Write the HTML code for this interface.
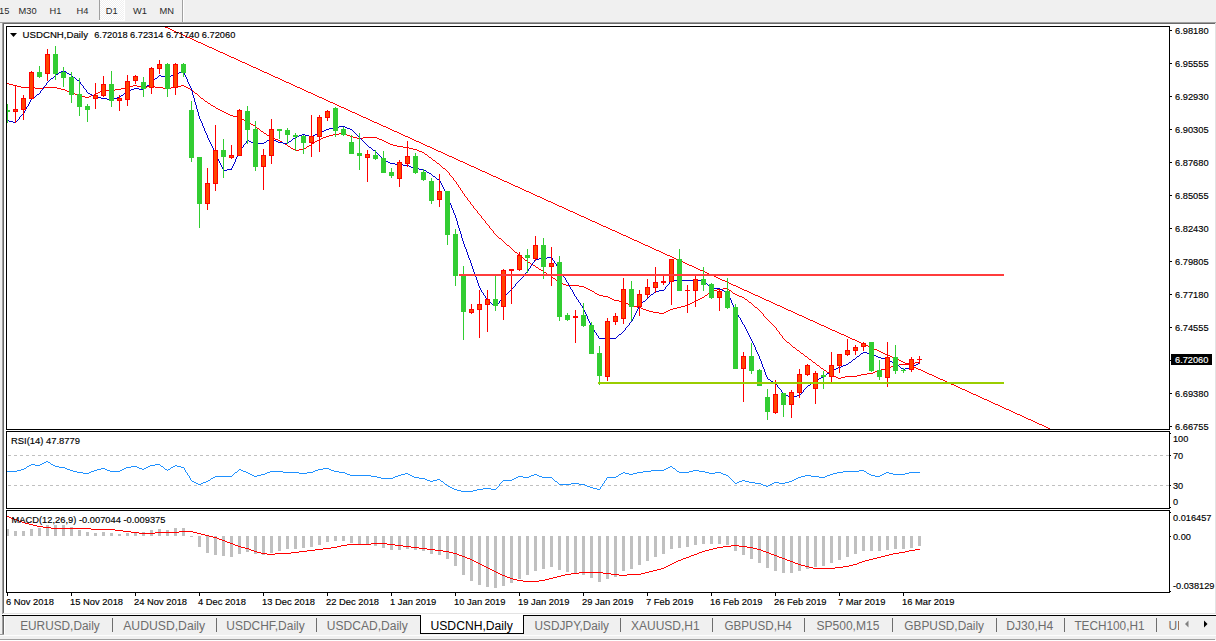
<!DOCTYPE html>
<html><head><meta charset="utf-8"><title>USDCNH,Daily</title>
<style>html,body{margin:0;padding:0;background:#f0f0f0;width:1216px;height:641px;overflow:hidden;font-family:"Liberation Sans",sans-serif}</style>
</head><body>
<svg width="1216" height="641" viewBox="0 0 1216 641" shape-rendering="crispEdges" style="display:block">
<defs><pattern id="chk" width="2" height="2" patternUnits="userSpaceOnUse"><rect width="2" height="2" fill="#f0f0f0"/><rect width="1" height="1" fill="#fff"/><rect x="1" y="1" width="1" height="1" fill="#fff"/></pattern>
<clipPath id="cm"><rect x="7" y="27" width="1162" height="402"/></clipPath>
<clipPath id="cr"><rect x="7" y="432" width="1162" height="76"/></clipPath>
<clipPath id="cd"><rect x="7" y="511" width="1162" height="81"/></clipPath>
</defs>
<rect width="1216" height="641" fill="#f0f0f0"/>
<rect x="99" y="0" width="1" height="20" fill="#a0a0a0"/>
<rect x="100" y="0" width="24" height="20" fill="url(#chk)"/>
<rect x="124" y="0" width="1" height="21" fill="#fff"/><rect x="99" y="20" width="26" height="1" fill="#fff"/>
<rect x="182" y="0" width="1" height="22" fill="#a0a0a0"/><rect x="183" y="0" width="1" height="22" fill="#fff"/>
<text x="-1" y="14" font-family="Liberation Sans, sans-serif" font-size="9.6" fill="#2a2a2a" textLength="10.36" lengthAdjust="spacingAndGlyphs">15</text>
<text x="18.5" y="14" font-family="Liberation Sans, sans-serif" font-size="9.6" fill="#2a2a2a" textLength="18.11" lengthAdjust="spacingAndGlyphs">M30</text>
<text x="49.5" y="14" font-family="Liberation Sans, sans-serif" font-size="9.6" fill="#2a2a2a" textLength="11.9" lengthAdjust="spacingAndGlyphs">H1</text>
<text x="76.5" y="14" font-family="Liberation Sans, sans-serif" font-size="9.6" fill="#2a2a2a" textLength="11.9" lengthAdjust="spacingAndGlyphs">H4</text>
<text x="105.8" y="14" font-family="Liberation Sans, sans-serif" font-size="9.6" fill="#2a2a2a" textLength="11.9" lengthAdjust="spacingAndGlyphs">D1</text>
<text x="133" y="14" font-family="Liberation Sans, sans-serif" font-size="9.6" fill="#2a2a2a" textLength="13.97" lengthAdjust="spacingAndGlyphs">W1</text>
<text x="159.5" y="14" font-family="Liberation Sans, sans-serif" font-size="9.6" fill="#2a2a2a" textLength="14.48" lengthAdjust="spacingAndGlyphs">MN</text>
<rect x="0" y="22" width="1216" height="1" fill="#a0a0a0"/>
<rect x="3" y="23" width="1212" height="1" fill="#696969"/>
<rect x="2" y="22" width="1" height="592" fill="#a0a0a0"/>
<rect x="3" y="23" width="1" height="590" fill="#696969"/>
<rect x="4" y="24" width="1211" height="589" fill="#fff"/>
<rect x="1215" y="23" width="1" height="591" fill="#e3e3e3"/>
<rect x="3" y="613" width="1213" height="1" fill="#e3e3e3"/>
<rect x="2" y="614" width="1214" height="1" fill="#fff"/>
<rect x="2" y="616" width="1" height="18" fill="#a0a0a0"/>
<rect x="3" y="616" width="1" height="18" fill="#696969"/>
<rect x="4" y="616" width="1" height="18" fill="#fff"/>
<rect x="6" y="26" width="1164" height="1" fill="#000"/>
<rect x="6" y="429" width="1164" height="1" fill="#000"/>
<rect x="6" y="26" width="1" height="404" fill="#000"/>
<rect x="1169" y="26" width="1" height="404" fill="#000"/>
<rect x="6" y="431" width="1164" height="1" fill="#000"/>
<rect x="6" y="508" width="1164" height="1" fill="#000"/>
<rect x="6" y="431" width="1" height="78" fill="#000"/>
<rect x="1169" y="431" width="1" height="78" fill="#000"/>
<rect x="6" y="510" width="1164" height="1" fill="#000"/>
<rect x="6" y="592" width="1164" height="1" fill="#000"/>
<rect x="6" y="510" width="1" height="83" fill="#000"/>
<rect x="1169" y="510" width="1" height="83" fill="#000"/>
<g clip-path="url(#cm)">
<path d="M165 27h3v1h-3zM168 28h2v1h-2zM170 29h2v1h-2zM172 30h2v1h-2zM174 31h2v1h-2zM176 32h3v1h-3zM179 33h2v1h-2zM181 34h2v1h-2zM183 35h2v1h-2zM185 36h2v1h-2zM187 37h3v1h-3zM190 38h2v1h-2zM192 39h2v1h-2zM194 40h2v1h-2zM196 41h2v1h-2zM198 42h3v1h-3zM201 43h2v1h-2zM203 44h2v1h-2zM205 45h2v1h-2zM207 46h2v1h-2zM209 47h3v1h-3zM212 48h2v1h-2zM214 49h2v1h-2zM216 50h2v1h-2zM218 51h2v1h-2zM220 52h3v1h-3zM223 53h2v1h-2zM225 54h2v1h-2zM227 55h2v1h-2zM229 56h2v1h-2zM231 57h3v1h-3zM234 58h2v1h-2zM236 59h2v1h-2zM238 60h2v1h-2zM240 61h2v1h-2zM242 62h3v1h-3zM245 63h2v1h-2zM247 64h2v1h-2zM249 65h2v1h-2zM251 66h2v1h-2zM253 67h3v1h-3zM256 68h2v1h-2zM258 69h2v1h-2zM260 70h2v1h-2zM262 71h2v1h-2zM264 72h3v1h-3zM267 73h2v1h-2zM269 74h2v1h-2zM271 75h2v1h-2zM273 76h2v1h-2zM275 77h3v1h-3zM278 78h2v1h-2zM280 79h2v1h-2zM282 80h2v1h-2zM284 81h2v1h-2zM286 82h3v1h-3zM289 83h2v1h-2zM291 84h2v1h-2zM293 85h2v1h-2zM295 86h2v1h-2zM297 87h3v1h-3zM300 88h2v1h-2zM302 89h2v1h-2zM304 90h2v1h-2zM306 91h2v1h-2zM308 92h3v1h-3zM311 93h2v1h-2zM313 94h2v1h-2zM315 95h2v1h-2zM317 96h2v1h-2zM319 97h3v1h-3zM322 98h2v1h-2zM324 99h2v1h-2zM326 100h2v1h-2zM328 101h2v1h-2zM330 102h3v1h-3zM333 103h2v1h-2zM335 104h2v1h-2zM337 105h2v1h-2zM339 106h2v1h-2zM341 107h3v1h-3zM344 108h2v1h-2zM346 109h2v1h-2zM348 110h2v1h-2zM350 111h2v1h-2zM352 112h3v1h-3zM355 113h2v1h-2zM357 114h2v1h-2zM359 115h2v1h-2zM361 116h2v1h-2zM363 117h3v1h-3zM366 118h2v1h-2zM368 119h2v1h-2zM370 120h2v1h-2zM372 121h2v1h-2zM374 122h3v1h-3zM377 123h2v1h-2zM379 124h2v1h-2zM381 125h2v1h-2zM383 126h3v1h-3zM386 127h2v1h-2zM388 128h2v1h-2zM390 129h2v1h-2zM392 130h2v1h-2zM394 131h3v1h-3zM397 132h2v1h-2zM399 133h2v1h-2zM401 134h2v1h-2zM403 135h2v1h-2zM405 136h3v1h-3zM408 137h2v1h-2zM410 138h2v1h-2zM412 139h2v1h-2zM414 140h2v1h-2zM416 141h3v1h-3zM419 142h2v1h-2zM421 143h2v1h-2zM423 144h2v1h-2zM425 145h2v1h-2zM427 146h3v1h-3zM430 147h2v1h-2zM432 148h2v1h-2zM434 149h2v1h-2zM436 150h2v1h-2zM438 151h3v1h-3zM441 152h2v1h-2zM443 153h2v1h-2zM445 154h2v1h-2zM447 155h2v1h-2zM449 156h3v1h-3zM452 157h2v1h-2zM454 158h2v1h-2zM456 159h2v1h-2zM458 160h2v1h-2zM460 161h3v1h-3zM463 162h2v1h-2zM465 163h2v1h-2zM467 164h2v1h-2zM469 165h2v1h-2zM471 166h3v1h-3zM474 167h2v1h-2zM476 168h2v1h-2zM478 169h2v1h-2zM480 170h2v1h-2zM482 171h3v1h-3zM485 172h2v1h-2zM487 173h2v1h-2zM489 174h2v1h-2zM491 175h2v1h-2zM493 176h3v1h-3zM496 177h2v1h-2zM498 178h2v1h-2zM500 179h2v1h-2zM502 180h2v1h-2zM504 181h3v1h-3zM507 182h2v1h-2zM509 183h2v1h-2zM511 184h2v1h-2zM513 185h2v1h-2zM515 186h3v1h-3zM518 187h2v1h-2zM520 188h2v1h-2zM522 189h2v1h-2zM524 190h2v1h-2zM526 191h3v1h-3zM529 192h2v1h-2zM531 193h2v1h-2zM533 194h2v1h-2zM535 195h2v1h-2zM537 196h3v1h-3zM540 197h2v1h-2zM542 198h2v1h-2zM544 199h2v1h-2zM546 200h2v1h-2zM548 201h3v1h-3zM551 202h2v1h-2zM553 203h2v1h-2zM555 204h2v1h-2zM557 205h2v1h-2zM559 206h3v1h-3zM562 207h2v1h-2zM564 208h2v1h-2zM566 209h2v1h-2zM568 210h2v1h-2zM570 211h3v1h-3zM573 212h2v1h-2zM575 213h2v1h-2zM577 214h2v1h-2zM579 215h2v1h-2zM581 216h3v1h-3zM584 217h2v1h-2zM586 218h2v1h-2zM588 219h2v1h-2zM590 220h2v1h-2zM592 221h3v1h-3zM595 222h2v1h-2zM597 223h2v1h-2zM599 224h2v1h-2zM601 225h2v1h-2zM603 226h3v1h-3zM606 227h2v1h-2zM608 228h2v1h-2zM610 229h2v1h-2zM612 230h3v1h-3zM615 231h2v1h-2zM617 232h2v1h-2zM619 233h2v1h-2zM621 234h2v1h-2zM623 235h3v1h-3zM626 236h2v1h-2zM628 237h2v1h-2zM630 238h2v1h-2zM632 239h2v1h-2zM634 240h3v1h-3zM637 241h2v1h-2zM639 242h2v1h-2zM641 243h2v1h-2zM643 244h2v1h-2zM645 245h3v1h-3zM648 246h2v1h-2zM650 247h2v1h-2zM652 248h2v1h-2zM654 249h2v1h-2zM656 250h3v1h-3zM659 251h2v1h-2zM661 252h2v1h-2zM663 253h2v1h-2zM665 254h2v1h-2zM667 255h3v1h-3zM670 256h2v1h-2zM672 257h2v1h-2zM674 258h2v1h-2zM676 259h2v1h-2zM678 260h3v1h-3zM681 261h2v1h-2zM683 262h2v1h-2zM685 263h2v1h-2zM687 264h2v1h-2zM689 265h3v1h-3zM692 266h2v1h-2zM694 267h2v1h-2zM696 268h2v1h-2zM698 269h2v1h-2zM700 270h3v1h-3zM703 271h2v1h-2zM705 272h2v1h-2zM707 273h2v1h-2zM709 274h2v1h-2zM711 275h3v1h-3zM714 276h2v1h-2zM716 277h2v1h-2zM718 278h2v1h-2zM720 279h2v1h-2zM722 280h3v1h-3zM725 281h2v1h-2zM727 282h2v1h-2zM729 283h2v1h-2zM731 284h2v1h-2zM733 285h3v1h-3zM736 286h2v1h-2zM738 287h2v1h-2zM740 288h2v1h-2zM742 289h2v1h-2zM744 290h3v1h-3zM747 291h2v1h-2zM749 292h2v1h-2zM751 293h2v1h-2zM753 294h2v1h-2zM755 295h3v1h-3zM758 296h2v1h-2zM760 297h2v1h-2zM762 298h2v1h-2zM764 299h2v1h-2zM766 300h3v1h-3zM769 301h2v1h-2zM771 302h2v1h-2zM773 303h2v1h-2zM775 304h2v1h-2zM777 305h3v1h-3zM780 306h2v1h-2zM782 307h2v1h-2zM784 308h2v1h-2zM786 309h2v1h-2zM788 310h3v1h-3zM791 311h2v1h-2zM793 312h2v1h-2zM795 313h2v1h-2zM797 314h2v1h-2zM799 315h3v1h-3zM802 316h2v1h-2zM804 317h2v1h-2zM806 318h2v1h-2zM808 319h2v1h-2zM810 320h3v1h-3zM813 321h2v1h-2zM815 322h2v1h-2zM817 323h2v1h-2zM819 324h2v1h-2zM821 325h3v1h-3zM824 326h2v1h-2zM826 327h2v1h-2zM828 328h2v1h-2zM830 329h2v1h-2zM832 330h3v1h-3zM835 331h2v1h-2zM837 332h2v1h-2zM839 333h2v1h-2zM841 334h3v1h-3zM844 335h2v1h-2zM846 336h2v1h-2zM848 337h2v1h-2zM850 338h2v1h-2zM852 339h3v1h-3zM855 340h2v1h-2zM857 341h2v1h-2zM859 342h2v1h-2zM861 343h2v1h-2zM863 344h3v1h-3zM866 345h2v1h-2zM868 346h2v1h-2zM870 347h2v1h-2zM872 348h2v1h-2zM874 349h3v1h-3zM877 350h2v1h-2zM879 351h2v1h-2zM881 352h2v1h-2zM883 353h2v1h-2zM885 354h3v1h-3zM888 355h2v1h-2zM890 356h2v1h-2zM892 357h2v1h-2zM894 358h2v1h-2zM896 359h3v1h-3zM899 360h2v1h-2zM901 361h2v1h-2zM903 362h2v1h-2zM905 363h2v1h-2zM907 364h3v1h-3zM910 365h2v1h-2zM912 366h2v1h-2zM914 367h2v1h-2zM916 368h2v1h-2zM918 369h3v1h-3zM921 370h2v1h-2zM923 371h2v1h-2zM925 372h2v1h-2zM927 373h2v1h-2zM929 374h3v1h-3zM932 375h2v1h-2zM934 376h2v1h-2zM936 377h2v1h-2zM938 378h2v1h-2zM940 379h3v1h-3zM943 380h2v1h-2zM945 381h2v1h-2zM947 382h2v1h-2zM949 383h2v1h-2zM951 384h3v1h-3zM954 385h2v1h-2zM956 386h2v1h-2zM958 387h2v1h-2zM960 388h2v1h-2zM962 389h3v1h-3zM965 390h2v1h-2zM967 391h2v1h-2zM969 392h2v1h-2zM971 393h2v1h-2zM973 394h3v1h-3zM976 395h2v1h-2zM978 396h2v1h-2zM980 397h2v1h-2zM982 398h2v1h-2zM984 399h3v1h-3zM987 400h2v1h-2zM989 401h2v1h-2zM991 402h2v1h-2zM993 403h2v1h-2zM995 404h3v1h-3zM998 405h2v1h-2zM1000 406h2v1h-2zM1002 407h2v1h-2zM1004 408h2v1h-2zM1006 409h3v1h-3zM1009 410h2v1h-2zM1011 411h2v1h-2zM1013 412h2v1h-2zM1015 413h2v1h-2zM1017 414h3v1h-3zM1020 415h2v1h-2zM1022 416h2v1h-2zM1024 417h2v1h-2zM1026 418h2v1h-2zM1028 419h3v1h-3zM1031 420h2v1h-2zM1033 421h2v1h-2zM1035 422h2v1h-2zM1037 423h2v1h-2zM1039 424h3v1h-3zM1042 425h2v1h-2zM1044 426h2v1h-2zM1046 427h2v1h-2zM1048 428h2v1h-2z" fill="#ff0000"/>
<path d="M6 83h3v1h-3zM9 84h4v1h-4zM13 85h4v1h-4zM133 85h4v1h-4zM181 85h3v1h-3zM17 86h4v1h-4zM129 86h4v1h-4zM137 86h4v1h-4zM147 86h8v1h-8zM177 86h4v1h-4zM184 86h2v1h-2zM21 87h14v1h-14zM43 87h14v1h-14zM125 87h4v1h-4zM141 87h6v1h-6zM155 87h8v1h-8zM171 87h6v1h-6zM186 87h2v1h-2zM35 88h8v1h-8zM57 88h4v1h-4zM121 88h4v1h-4zM163 88h8v1h-8zM188 88h2v1h-2zM61 89h4v1h-4zM115 89h6v1h-6zM190 89h2v1h-2zM65 90h2v1h-2zM102 90h13v1h-13zM192 90h1v1h-1zM67 91h3v1h-3zM100 91h2v1h-2zM193 91h1v1h-1zM70 92h3v1h-3zM98 92h2v1h-2zM194 92h1v1h-1zM73 93h2v1h-2zM96 93h2v1h-2zM195 93h2v1h-2zM75 94h3v1h-3zM94 94h2v1h-2zM197 94h1v1h-1zM78 95h3v1h-3zM91 95h3v1h-3zM198 95h1v1h-1zM81 96h4v1h-4zM89 96h2v1h-2zM199 96h1v1h-1zM85 97h4v1h-4zM200 97h1v1h-1zM201 98h2v1h-2zM203 99h1v1h-1zM204 100h1v1h-1zM205 101h2v1h-2zM207 102h1v1h-1zM208 103h2v1h-2zM210 104h1v1h-1zM211 105h2v1h-2zM213 106h2v1h-2zM215 107h1v1h-1zM216 108h2v1h-2zM218 109h2v1h-2zM220 110h2v1h-2zM222 111h2v1h-2zM224 112h2v1h-2zM226 113h2v1h-2zM228 114h2v1h-2zM230 115h3v1h-3zM233 116h4v1h-4zM237 117h3v1h-3zM240 118h2v1h-2zM242 119h2v1h-2zM244 120h2v1h-2zM246 121h2v1h-2zM248 122h2v1h-2zM250 123h1v1h-1zM251 124h2v1h-2zM253 125h2v1h-2zM255 126h1v1h-1zM256 127h1v1h-1zM257 128h2v1h-2zM259 129h1v1h-1zM260 130h1v1h-1zM261 131h2v1h-2zM263 132h1v1h-1zM264 133h2v1h-2zM339 133h6v1h-6zM266 134h1v1h-1zM333 134h6v1h-6zM345 134h2v1h-2zM267 135h2v1h-2zM329 135h4v1h-4zM347 135h3v1h-3zM269 136h2v1h-2zM326 136h3v1h-3zM350 136h3v1h-3zM271 137h2v1h-2zM323 137h3v1h-3zM353 137h4v1h-4zM363 137h14v1h-14zM273 138h2v1h-2zM321 138h2v1h-2zM357 138h6v1h-6zM377 138h2v1h-2zM275 139h3v1h-3zM319 139h2v1h-2zM379 139h3v1h-3zM278 140h2v1h-2zM317 140h2v1h-2zM382 140h2v1h-2zM280 141h2v1h-2zM315 141h2v1h-2zM384 141h2v1h-2zM282 142h1v1h-1zM314 142h1v1h-1zM386 142h2v1h-2zM283 143h2v1h-2zM312 143h2v1h-2zM388 143h2v1h-2zM285 144h2v1h-2zM311 144h1v1h-1zM390 144h3v1h-3zM287 145h1v1h-1zM309 145h2v1h-2zM393 145h4v1h-4zM288 146h2v1h-2zM307 146h2v1h-2zM397 146h6v1h-6zM290 147h1v1h-1zM306 147h1v1h-1zM403 147h6v1h-6zM291 148h2v1h-2zM304 148h2v1h-2zM409 148h4v1h-4zM293 149h2v1h-2zM299 149h5v1h-5zM413 149h4v1h-4zM295 150h4v1h-4zM417 150h2v1h-2zM419 151h3v1h-3zM422 152h2v1h-2zM424 153h1v1h-1zM425 154h2v1h-2zM427 155h1v1h-1zM428 156h1v1h-1zM429 157h2v1h-2zM431 158h1v1h-1zM432 159h1v1h-1zM433 160h2v1h-2zM435 161h1v1h-1zM436 162h1v1h-1zM437 163h2v1h-2zM439 164h1v1h-1zM440 165h1v1h-1zM441 166h1v1h-1zM442 167h1v1h-1zM443 168h2v1h-2zM445 169h1v1h-1zM446 170h1v1h-1zM447 171h1v1h-1zM448 172h1v1h-1zM449 173h1v1h-1zM449 174h1v1h-1zM450 175h1v1h-1zM451 176h1v1h-1zM452 177h1v1h-1zM453 178h1v1h-1zM453 179h1v1h-1zM454 180h1v1h-1zM455 181h1v1h-1zM456 182h1v1h-1zM456 183h1v1h-1zM457 184h1v1h-1zM458 185h1v1h-1zM458 186h1v1h-1zM459 187h1v1h-1zM460 188h1v1h-1zM460 189h1v1h-1zM461 190h1v1h-1zM462 191h1v1h-1zM462 192h1v1h-1zM463 193h1v1h-1zM464 194h1v1h-1zM464 195h1v1h-1zM465 196h1v1h-1zM466 197h1v1h-1zM467 198h1v1h-1zM467 199h1v1h-1zM468 200h1v1h-1zM469 201h1v1h-1zM470 202h1v1h-1zM470 203h1v1h-1zM471 204h1v1h-1zM472 205h1v1h-1zM473 206h1v1h-1zM473 207h1v1h-1zM474 208h1v1h-1zM475 209h1v1h-1zM476 210h1v1h-1zM477 211h1v1h-1zM477 212h1v1h-1zM478 213h1v1h-1zM479 214h1v1h-1zM480 215h1v1h-1zM481 216h1v1h-1zM481 217h1v1h-1zM482 218h1v1h-1zM483 219h1v1h-1zM484 220h1v1h-1zM485 221h1v1h-1zM485 222h1v1h-1zM486 223h1v1h-1zM487 224h1v1h-1zM488 225h1v1h-1zM489 226h1v1h-1zM489 227h1v1h-1zM490 228h1v1h-1zM491 229h1v1h-1zM492 230h1v1h-1zM493 231h1v1h-1zM493 232h1v1h-1zM494 233h1v1h-1zM495 234h1v1h-1zM496 235h1v1h-1zM497 236h1v1h-1zM498 237h1v1h-1zM499 238h2v1h-2zM501 239h1v1h-1zM502 240h1v1h-1zM503 241h1v1h-1zM504 242h1v1h-1zM505 243h1v1h-1zM506 244h1v1h-1zM507 245h2v1h-2zM509 246h1v1h-1zM510 247h1v1h-1zM511 248h1v1h-1zM512 249h1v1h-1zM513 250h1v1h-1zM514 251h1v1h-1zM515 252h2v1h-2zM517 253h1v1h-1zM518 254h1v1h-1zM519 255h1v1h-1zM520 256h1v1h-1zM521 257h2v1h-2zM523 258h1v1h-1zM524 259h1v1h-1zM525 260h2v1h-2zM527 261h1v1h-1zM528 262h2v1h-2zM530 263h1v1h-1zM531 264h2v1h-2zM533 265h2v1h-2zM535 266h1v1h-1zM536 267h2v1h-2zM538 268h1v1h-1zM539 269h2v1h-2zM541 270h2v1h-2zM543 271h1v1h-1zM544 272h2v1h-2zM546 273h1v1h-1zM547 274h2v1h-2zM549 275h2v1h-2zM551 276h1v1h-1zM552 277h1v1h-1zM553 278h2v1h-2zM555 279h1v1h-1zM556 280h1v1h-1zM557 281h2v1h-2zM559 282h2v1h-2zM561 283h2v1h-2zM563 284h3v1h-3zM566 285h13v1h-13zM579 286h5v1h-5zM584 287h2v1h-2zM586 288h2v1h-2zM723 288h5v1h-5zM588 289h2v1h-2zM717 289h6v1h-6zM728 289h1v1h-1zM590 290h2v1h-2zM713 290h4v1h-4zM729 290h2v1h-2zM592 291h2v1h-2zM711 291h2v1h-2zM731 291h1v1h-1zM594 292h1v1h-1zM709 292h2v1h-2zM732 292h1v1h-1zM595 293h2v1h-2zM708 293h1v1h-1zM733 293h2v1h-2zM597 294h2v1h-2zM707 294h1v1h-1zM735 294h2v1h-2zM599 295h4v1h-4zM705 295h2v1h-2zM737 295h2v1h-2zM603 296h5v1h-5zM704 296h1v1h-1zM739 296h3v1h-3zM608 297h2v1h-2zM702 297h2v1h-2zM742 297h2v1h-2zM610 298h2v1h-2zM700 298h2v1h-2zM744 298h1v1h-1zM612 299h2v1h-2zM698 299h2v1h-2zM745 299h2v1h-2zM614 300h5v1h-5zM696 300h2v1h-2zM747 300h1v1h-1zM619 301h5v1h-5zM694 301h2v1h-2zM748 301h1v1h-1zM624 302h2v1h-2zM692 302h2v1h-2zM749 302h2v1h-2zM626 303h2v1h-2zM690 303h2v1h-2zM751 303h1v1h-1zM628 304h2v1h-2zM688 304h2v1h-2zM752 304h1v1h-1zM630 305h3v1h-3zM685 305h3v1h-3zM753 305h1v1h-1zM633 306h4v1h-4zM681 306h4v1h-4zM754 306h1v1h-1zM637 307h4v1h-4zM677 307h4v1h-4zM755 307h2v1h-2zM641 308h2v1h-2zM673 308h4v1h-4zM757 308h1v1h-1zM643 309h3v1h-3zM670 309h3v1h-3zM758 309h1v1h-1zM646 310h3v1h-3zM668 310h2v1h-2zM759 310h1v1h-1zM649 311h4v1h-4zM666 311h2v1h-2zM760 311h1v1h-1zM653 312h6v1h-6zM664 312h2v1h-2zM761 312h1v1h-1zM659 313h5v1h-5zM762 313h1v1h-1zM763 314h1v1h-1zM763 315h1v1h-1zM764 316h1v1h-1zM765 317h1v1h-1zM766 318h1v1h-1zM767 319h1v1h-1zM768 320h1v1h-1zM769 321h1v1h-1zM770 322h1v1h-1zM771 323h1v1h-1zM772 324h1v1h-1zM773 325h1v1h-1zM774 326h1v1h-1zM775 327h1v1h-1zM776 328h1v1h-1zM776 329h1v1h-1zM777 330h1v1h-1zM778 331h1v1h-1zM779 332h1v1h-1zM779 333h1v1h-1zM780 334h1v1h-1zM781 335h1v1h-1zM782 336h1v1h-1zM782 337h1v1h-1zM783 338h1v1h-1zM784 339h1v1h-1zM785 340h1v1h-1zM786 341h1v1h-1zM787 342h2v1h-2zM789 343h1v1h-1zM790 344h1v1h-1zM791 345h1v1h-1zM792 346h1v1h-1zM793 347h2v1h-2zM795 348h1v1h-1zM796 349h1v1h-1zM797 350h2v1h-2zM799 351h1v1h-1zM800 352h1v1h-1zM801 353h2v1h-2zM803 354h1v1h-1zM804 355h1v1h-1zM805 356h2v1h-2zM807 357h1v1h-1zM808 358h1v1h-1zM809 359h2v1h-2zM811 360h1v1h-1zM812 361h1v1h-1zM813 362h2v1h-2zM915 362h5v1h-5zM815 363h1v1h-1zM907 363h8v1h-8zM816 364h1v1h-1zM899 364h8v1h-8zM817 365h2v1h-2zM894 365h5v1h-5zM819 366h1v1h-1zM891 366h3v1h-3zM820 367h1v1h-1zM889 367h2v1h-2zM821 368h2v1h-2zM885 368h4v1h-4zM823 369h1v1h-1zM881 369h4v1h-4zM824 370h2v1h-2zM878 370h3v1h-3zM826 371h1v1h-1zM875 371h3v1h-3zM827 372h2v1h-2zM873 372h2v1h-2zM829 373h2v1h-2zM867 373h6v1h-6zM831 374h1v1h-1zM861 374h6v1h-6zM832 375h2v1h-2zM857 375h4v1h-4zM834 376h2v1h-2zM845 376h12v1h-12zM836 377h2v1h-2zM841 377h4v1h-4zM838 378h3v1h-3z" fill="#ff0000" />
<path d="M63 70h1v1h-1zM61 71h2v1h-2zM64 71h2v1h-2zM182 71h2v1h-2zM59 72h2v1h-2zM66 72h1v1h-1zM179 72h3v1h-3zM183 72h1v1h-1zM58 73h1v1h-1zM67 73h2v1h-2zM177 73h2v1h-2zM184 73h1v1h-1zM56 74h2v1h-2zM69 74h2v1h-2zM174 74h3v1h-3zM184 74h1v1h-1zM55 75h1v1h-1zM71 75h1v1h-1zM159 75h2v1h-2zM171 75h3v1h-3zM185 75h1v1h-1zM54 76h1v1h-1zM72 76h1v1h-1zM158 76h1v1h-1zM161 76h4v1h-4zM169 76h2v1h-2zM185 76h1v1h-1zM53 77h1v1h-1zM73 77h2v1h-2zM157 77h1v1h-1zM165 77h4v1h-4zM186 77h1v1h-1zM51 78h2v1h-2zM75 78h1v1h-1zM155 78h2v1h-2zM186 78h1v1h-1zM50 79h1v1h-1zM76 79h1v1h-1zM154 79h1v1h-1zM187 79h1v1h-1zM49 80h1v1h-1zM77 80h2v1h-2zM153 80h1v1h-1zM187 80h1v1h-1zM48 81h1v1h-1zM79 81h1v1h-1zM152 81h1v1h-1zM187 81h1v1h-1zM47 82h1v1h-1zM80 82h1v1h-1zM151 82h1v1h-1zM188 82h1v1h-1zM46 83h1v1h-1zM80 83h1v1h-1zM150 83h1v1h-1zM188 83h1v1h-1zM46 84h1v1h-1zM81 84h1v1h-1zM149 84h1v1h-1zM189 84h1v1h-1zM45 85h1v1h-1zM82 85h1v1h-1zM147 85h2v1h-2zM189 85h1v1h-1zM44 86h1v1h-1zM83 86h1v1h-1zM146 86h1v1h-1zM190 86h1v1h-1zM43 87h1v1h-1zM83 87h1v1h-1zM145 87h1v1h-1zM190 87h1v1h-1zM43 88h1v1h-1zM84 88h1v1h-1zM134 88h5v1h-5zM144 88h1v1h-1zM191 88h1v1h-1zM42 89h1v1h-1zM85 89h1v1h-1zM131 89h3v1h-3zM139 89h5v1h-5zM191 89h1v1h-1zM41 90h1v1h-1zM86 90h1v1h-1zM129 90h2v1h-2zM191 90h1v1h-1zM40 91h1v1h-1zM86 91h1v1h-1zM127 91h2v1h-2zM192 91h1v1h-1zM40 92h1v1h-1zM87 92h1v1h-1zM125 92h2v1h-2zM192 92h1v1h-1zM39 93h1v1h-1zM88 93h2v1h-2zM124 93h1v1h-1zM192 93h1v1h-1zM37 94h2v1h-2zM90 94h2v1h-2zM123 94h1v1h-1zM192 94h1v1h-1zM36 95h1v1h-1zM92 95h2v1h-2zM121 95h2v1h-2zM193 95h1v1h-1zM35 96h1v1h-1zM94 96h3v1h-3zM120 96h1v1h-1zM193 96h1v1h-1zM33 97h2v1h-2zM97 97h4v1h-4zM117 97h3v1h-3zM193 97h1v1h-1zM32 98h1v1h-1zM101 98h6v1h-6zM113 98h4v1h-4zM194 98h1v1h-1zM31 99h1v1h-1zM107 99h6v1h-6zM194 99h1v1h-1zM30 100h1v1h-1zM194 100h1v1h-1zM30 101h1v1h-1zM194 101h1v1h-1zM29 102h1v1h-1zM195 102h1v1h-1zM29 103h1v1h-1zM195 103h1v1h-1zM28 104h1v1h-1zM195 104h1v1h-1zM28 105h1v1h-1zM196 105h1v1h-1zM27 106h1v1h-1zM196 106h1v1h-1zM26 107h1v1h-1zM196 107h1v1h-1zM26 108h1v1h-1zM196 108h1v1h-1zM25 109h1v1h-1zM197 109h1v1h-1zM25 110h1v1h-1zM197 110h1v1h-1zM24 111h1v1h-1zM197 111h1v1h-1zM24 112h1v1h-1zM198 112h1v1h-1zM23 113h1v1h-1zM198 113h1v1h-1zM22 114h1v1h-1zM198 114h1v1h-1zM21 115h1v1h-1zM198 115h1v1h-1zM20 116h1v1h-1zM199 116h1v1h-1zM19 117h1v1h-1zM199 117h1v1h-1zM19 118h1v1h-1zM199 118h1v1h-1zM18 119h1v1h-1zM200 119h1v1h-1zM6 120h3v1h-3zM17 120h1v1h-1zM200 120h1v1h-1zM9 121h4v1h-4zM16 121h1v1h-1zM201 121h1v1h-1zM13 122h3v1h-3zM201 122h1v1h-1zM202 123h1v1h-1zM202 124h1v1h-1zM202 125h1v1h-1zM203 126h1v1h-1zM339 126h6v1h-6zM203 127h1v1h-1zM333 127h6v1h-6zM345 127h2v1h-2zM204 128h1v1h-1zM329 128h4v1h-4zM347 128h3v1h-3zM204 129h1v1h-1zM326 129h3v1h-3zM350 129h2v1h-2zM204 130h1v1h-1zM324 130h2v1h-2zM352 130h1v1h-1zM205 131h1v1h-1zM322 131h2v1h-2zM353 131h1v1h-1zM205 132h1v1h-1zM320 132h2v1h-2zM354 132h1v1h-1zM206 133h1v1h-1zM318 133h2v1h-2zM355 133h1v1h-1zM206 134h1v1h-1zM302 134h3v1h-3zM315 134h3v1h-3zM356 134h1v1h-1zM207 135h1v1h-1zM299 135h3v1h-3zM305 135h4v1h-4zM313 135h2v1h-2zM357 135h1v1h-1zM207 136h1v1h-1zM297 136h2v1h-2zM309 136h4v1h-4zM358 136h1v1h-1zM207 137h1v1h-1zM295 137h2v1h-2zM359 137h1v1h-1zM208 138h1v1h-1zM271 138h1v1h-1zM293 138h2v1h-2zM360 138h1v1h-1zM208 139h1v1h-1zM269 139h2v1h-2zM272 139h2v1h-2zM292 139h1v1h-1zM361 139h1v1h-1zM209 140h1v1h-1zM247 140h2v1h-2zM267 140h2v1h-2zM274 140h2v1h-2zM291 140h1v1h-1zM362 140h1v1h-1zM209 141h1v1h-1zM246 141h1v1h-1zM249 141h2v1h-2zM266 141h1v1h-1zM276 141h2v1h-2zM289 141h2v1h-2zM363 141h1v1h-1zM210 142h1v1h-1zM246 142h1v1h-1zM251 142h3v1h-3zM264 142h2v1h-2zM278 142h5v1h-5zM288 142h1v1h-1zM364 142h1v1h-1zM210 143h1v1h-1zM245 143h1v1h-1zM254 143h10v1h-10zM283 143h5v1h-5zM365 143h1v1h-1zM211 144h1v1h-1zM244 144h1v1h-1zM366 144h1v1h-1zM211 145h1v1h-1zM243 145h1v1h-1zM367 145h1v1h-1zM212 146h1v1h-1zM243 146h1v1h-1zM368 146h1v1h-1zM212 147h1v1h-1zM242 147h1v1h-1zM369 147h2v1h-2zM213 148h1v1h-1zM241 148h1v1h-1zM371 148h1v1h-1zM213 149h1v1h-1zM240 149h1v1h-1zM372 149h1v1h-1zM214 150h1v1h-1zM240 150h1v1h-1zM373 150h2v1h-2zM214 151h1v1h-1zM239 151h1v1h-1zM375 151h1v1h-1zM215 152h1v1h-1zM239 152h1v1h-1zM376 152h1v1h-1zM215 153h1v1h-1zM238 153h1v1h-1zM377 153h1v1h-1zM215 154h1v1h-1zM238 154h1v1h-1zM378 154h1v1h-1zM216 155h1v1h-1zM237 155h1v1h-1zM379 155h1v1h-1zM216 156h1v1h-1zM237 156h1v1h-1zM380 156h1v1h-1zM217 157h1v1h-1zM236 157h1v1h-1zM381 157h1v1h-1zM217 158h1v1h-1zM236 158h1v1h-1zM382 158h1v1h-1zM218 159h1v1h-1zM235 159h1v1h-1zM383 159h1v1h-1zM218 160h1v1h-1zM235 160h1v1h-1zM384 160h2v1h-2zM219 161h1v1h-1zM235 161h1v1h-1zM386 161h2v1h-2zM219 162h1v1h-1zM234 162h1v1h-1zM388 162h2v1h-2zM220 163h1v1h-1zM234 163h1v1h-1zM390 163h5v1h-5zM220 164h1v1h-1zM233 164h1v1h-1zM395 164h8v1h-8zM221 165h1v1h-1zM233 165h1v1h-1zM403 165h6v1h-6zM221 166h1v1h-1zM232 166h1v1h-1zM409 166h2v1h-2zM222 167h1v1h-1zM232 167h1v1h-1zM411 167h3v1h-3zM222 168h1v1h-1zM231 168h1v1h-1zM414 168h5v1h-5zM223 169h1v1h-1zM227 169h5v1h-5zM419 169h5v1h-5zM223 170h4v1h-4zM424 170h2v1h-2zM426 171h1v1h-1zM427 172h2v1h-2zM429 173h2v1h-2zM431 174h1v1h-1zM432 175h1v1h-1zM433 176h2v1h-2zM435 177h1v1h-1zM436 178h1v1h-1zM437 179h2v1h-2zM439 180h1v1h-1zM440 181h1v1h-1zM440 182h1v1h-1zM441 183h1v1h-1zM441 184h1v1h-1zM442 185h1v1h-1zM442 186h1v1h-1zM443 187h1v1h-1zM443 188h1v1h-1zM444 189h1v1h-1zM444 190h1v1h-1zM445 191h1v1h-1zM445 192h1v1h-1zM446 193h1v1h-1zM446 194h1v1h-1zM447 195h1v1h-1zM447 196h1v1h-1zM447 197h1v1h-1zM448 198h1v1h-1zM448 199h1v1h-1zM449 200h1v1h-1zM449 201h1v1h-1zM449 202h1v1h-1zM450 203h1v1h-1zM450 204h1v1h-1zM451 205h1v1h-1zM451 206h1v1h-1zM451 207h1v1h-1zM452 208h1v1h-1zM452 209h1v1h-1zM453 210h1v1h-1zM453 211h1v1h-1zM453 212h1v1h-1zM454 213h1v1h-1zM454 214h1v1h-1zM455 215h1v1h-1zM455 216h1v1h-1zM455 217h1v1h-1zM456 218h1v1h-1zM456 219h1v1h-1zM456 220h1v1h-1zM457 221h1v1h-1zM457 222h1v1h-1zM457 223h1v1h-1zM457 224h1v1h-1zM458 225h1v1h-1zM458 226h1v1h-1zM458 227h1v1h-1zM459 228h1v1h-1zM459 229h1v1h-1zM459 230h1v1h-1zM460 231h1v1h-1zM460 232h1v1h-1zM460 233h1v1h-1zM461 234h1v1h-1zM461 235h1v1h-1zM461 236h1v1h-1zM461 237h1v1h-1zM462 238h1v1h-1zM462 239h1v1h-1zM462 240h1v1h-1zM463 241h1v1h-1zM463 242h1v1h-1zM463 243h1v1h-1zM464 244h1v1h-1zM464 245h1v1h-1zM464 246h1v1h-1zM465 247h1v1h-1zM465 248h1v1h-1zM466 249h1v1h-1zM466 250h1v1h-1zM466 251h1v1h-1zM467 252h1v1h-1zM467 253h1v1h-1zM467 254h1v1h-1zM468 255h1v1h-1zM468 256h1v1h-1zM468 257h1v1h-1zM547 257h5v1h-5zM469 258h1v1h-1zM539 258h8v1h-8zM552 258h1v1h-1zM469 259h1v1h-1zM535 259h4v1h-4zM552 259h1v1h-1zM470 260h1v1h-1zM534 260h1v1h-1zM553 260h1v1h-1zM470 261h1v1h-1zM534 261h1v1h-1zM554 261h1v1h-1zM470 262h1v1h-1zM533 262h1v1h-1zM554 262h1v1h-1zM471 263h1v1h-1zM532 263h1v1h-1zM555 263h1v1h-1zM471 264h1v1h-1zM532 264h1v1h-1zM556 264h1v1h-1zM471 265h1v1h-1zM531 265h1v1h-1zM556 265h1v1h-1zM472 266h1v1h-1zM530 266h1v1h-1zM557 266h1v1h-1zM472 267h1v1h-1zM530 267h1v1h-1zM558 267h1v1h-1zM472 268h1v1h-1zM529 268h1v1h-1zM558 268h1v1h-1zM473 269h1v1h-1zM528 269h1v1h-1zM559 269h1v1h-1zM473 270h1v1h-1zM528 270h1v1h-1zM560 270h1v1h-1zM473 271h1v1h-1zM527 271h1v1h-1zM560 271h1v1h-1zM474 272h1v1h-1zM526 272h1v1h-1zM561 272h1v1h-1zM474 273h1v1h-1zM525 273h1v1h-1zM561 273h1v1h-1zM474 274h1v1h-1zM524 274h1v1h-1zM562 274h1v1h-1zM475 275h1v1h-1zM523 275h1v1h-1zM563 275h1v1h-1zM475 276h1v1h-1zM523 276h1v1h-1zM563 276h1v1h-1zM476 277h1v1h-1zM522 277h1v1h-1zM564 277h1v1h-1zM476 278h1v1h-1zM521 278h1v1h-1zM565 278h1v1h-1zM476 279h1v1h-1zM520 279h1v1h-1zM565 279h1v1h-1zM477 280h1v1h-1zM519 280h1v1h-1zM566 280h1v1h-1zM671 280h33v1h-33zM477 281h1v1h-1zM518 281h1v1h-1zM566 281h1v1h-1zM670 281h1v1h-1zM704 281h1v1h-1zM477 282h1v1h-1zM517 282h1v1h-1zM567 282h1v1h-1zM669 282h1v1h-1zM705 282h1v1h-1zM478 283h1v1h-1zM516 283h1v1h-1zM568 283h1v1h-1zM669 283h1v1h-1zM706 283h1v1h-1zM478 284h1v1h-1zM515 284h1v1h-1zM568 284h1v1h-1zM668 284h1v1h-1zM707 284h1v1h-1zM478 285h1v1h-1zM515 285h1v1h-1zM569 285h1v1h-1zM667 285h1v1h-1zM708 285h1v1h-1zM479 286h1v1h-1zM514 286h1v1h-1zM569 286h1v1h-1zM666 286h1v1h-1zM709 286h1v1h-1zM479 287h1v1h-1zM513 287h1v1h-1zM570 287h1v1h-1zM665 287h1v1h-1zM710 287h1v1h-1zM480 288h1v1h-1zM512 288h1v1h-1zM570 288h1v1h-1zM665 288h1v1h-1zM711 288h9v1h-9zM480 289h1v1h-1zM511 289h1v1h-1zM571 289h1v1h-1zM664 289h1v1h-1zM720 289h2v1h-2zM481 290h1v1h-1zM510 290h1v1h-1zM572 290h1v1h-1zM659 290h5v1h-5zM722 290h2v1h-2zM481 291h1v1h-1zM509 291h1v1h-1zM572 291h1v1h-1zM655 291h4v1h-4zM724 291h2v1h-2zM482 292h1v1h-1zM508 292h1v1h-1zM573 292h1v1h-1zM654 292h1v1h-1zM726 292h2v1h-2zM483 293h1v1h-1zM507 293h1v1h-1zM573 293h1v1h-1zM653 293h1v1h-1zM727 293h1v1h-1zM483 294h1v1h-1zM506 294h1v1h-1zM574 294h1v1h-1zM651 294h2v1h-2zM728 294h1v1h-1zM484 295h1v1h-1zM505 295h1v1h-1zM574 295h1v1h-1zM650 295h1v1h-1zM728 295h1v1h-1zM485 296h1v1h-1zM504 296h1v1h-1zM575 296h1v1h-1zM649 296h1v1h-1zM729 296h1v1h-1zM485 297h1v1h-1zM503 297h1v1h-1zM576 297h1v1h-1zM648 297h1v1h-1zM729 297h1v1h-1zM486 298h1v1h-1zM502 298h1v1h-1zM576 298h1v1h-1zM647 298h1v1h-1zM730 298h1v1h-1zM486 299h1v1h-1zM501 299h1v1h-1zM577 299h1v1h-1zM646 299h1v1h-1zM730 299h1v1h-1zM487 300h1v1h-1zM500 300h1v1h-1zM578 300h1v1h-1zM645 300h1v1h-1zM731 300h1v1h-1zM488 301h1v1h-1zM499 301h1v1h-1zM578 301h1v1h-1zM643 301h2v1h-2zM731 301h1v1h-1zM489 302h2v1h-2zM499 302h1v1h-1zM579 302h1v1h-1zM642 302h1v1h-1zM731 302h1v1h-1zM491 303h1v1h-1zM498 303h1v1h-1zM580 303h1v1h-1zM641 303h1v1h-1zM732 303h1v1h-1zM492 304h1v1h-1zM497 304h1v1h-1zM580 304h1v1h-1zM640 304h1v1h-1zM732 304h1v1h-1zM493 305h2v1h-2zM496 305h1v1h-1zM581 305h1v1h-1zM639 305h1v1h-1zM733 305h1v1h-1zM495 306h1v1h-1zM582 306h1v1h-1zM639 306h1v1h-1zM733 306h1v1h-1zM582 307h1v1h-1zM638 307h1v1h-1zM734 307h1v1h-1zM583 308h1v1h-1zM638 308h1v1h-1zM734 308h1v1h-1zM583 309h1v1h-1zM637 309h1v1h-1zM735 309h1v1h-1zM584 310h1v1h-1zM637 310h1v1h-1zM735 310h1v1h-1zM584 311h1v1h-1zM636 311h1v1h-1zM736 311h1v1h-1zM585 312h1v1h-1zM636 312h1v1h-1zM736 312h1v1h-1zM585 313h1v1h-1zM635 313h1v1h-1zM737 313h1v1h-1zM586 314h1v1h-1zM635 314h1v1h-1zM737 314h1v1h-1zM586 315h1v1h-1zM634 315h1v1h-1zM738 315h1v1h-1zM587 316h1v1h-1zM634 316h1v1h-1zM738 316h1v1h-1zM587 317h1v1h-1zM633 317h1v1h-1zM739 317h1v1h-1zM587 318h1v1h-1zM633 318h1v1h-1zM740 318h1v1h-1zM588 319h1v1h-1zM632 319h1v1h-1zM740 319h1v1h-1zM588 320h1v1h-1zM632 320h1v1h-1zM741 320h1v1h-1zM589 321h1v1h-1zM631 321h1v1h-1zM741 321h1v1h-1zM589 322h1v1h-1zM630 322h1v1h-1zM742 322h1v1h-1zM590 323h1v1h-1zM629 323h1v1h-1zM742 323h1v1h-1zM590 324h1v1h-1zM629 324h1v1h-1zM743 324h1v1h-1zM591 325h1v1h-1zM628 325h1v1h-1zM744 325h1v1h-1zM591 326h1v1h-1zM627 326h1v1h-1zM744 326h1v1h-1zM592 327h1v1h-1zM626 327h1v1h-1zM745 327h1v1h-1zM592 328h1v1h-1zM625 328h1v1h-1zM745 328h1v1h-1zM593 329h1v1h-1zM625 329h1v1h-1zM746 329h1v1h-1zM594 330h1v1h-1zM624 330h1v1h-1zM746 330h1v1h-1zM594 331h1v1h-1zM623 331h1v1h-1zM747 331h1v1h-1zM595 332h1v1h-1zM622 332h1v1h-1zM747 332h1v1h-1zM596 333h1v1h-1zM621 333h1v1h-1zM748 333h1v1h-1zM596 334h1v1h-1zM619 334h2v1h-2zM748 334h1v1h-1zM597 335h1v1h-1zM618 335h1v1h-1zM749 335h1v1h-1zM598 336h1v1h-1zM617 336h1v1h-1zM749 336h1v1h-1zM598 337h1v1h-1zM616 337h1v1h-1zM750 337h1v1h-1zM599 338h17v1h-17zM750 338h1v1h-1zM751 339h1v1h-1zM751 340h1v1h-1zM752 341h1v1h-1zM752 342h1v1h-1zM753 343h1v1h-1zM753 344h1v1h-1zM754 345h1v1h-1zM754 346h1v1h-1zM755 347h1v1h-1zM755 348h1v1h-1zM755 349h1v1h-1zM756 350h1v1h-1zM756 351h1v1h-1zM757 352h1v1h-1zM863 352h4v1h-4zM757 353h1v1h-1zM861 353h2v1h-2zM867 353h5v1h-5zM758 354h1v1h-1zM860 354h1v1h-1zM872 354h2v1h-2zM758 355h1v1h-1zM859 355h1v1h-1zM874 355h2v1h-2zM759 356h1v1h-1zM857 356h2v1h-2zM876 356h2v1h-2zM759 357h1v1h-1zM856 357h1v1h-1zM878 357h3v1h-3zM759 358h1v1h-1zM855 358h1v1h-1zM881 358h4v1h-4zM760 359h1v1h-1zM853 359h2v1h-2zM885 359h3v1h-3zM760 360h1v1h-1zM852 360h1v1h-1zM888 360h2v1h-2zM761 361h1v1h-1zM851 361h1v1h-1zM890 361h2v1h-2zM761 362h1v1h-1zM849 362h2v1h-2zM892 362h2v1h-2zM761 363h1v1h-1zM848 363h1v1h-1zM894 363h2v1h-2zM918 363h2v1h-2zM762 364h1v1h-1zM846 364h2v1h-2zM896 364h1v1h-1zM916 364h2v1h-2zM762 365h1v1h-1zM843 365h3v1h-3zM897 365h2v1h-2zM914 365h2v1h-2zM762 366h1v1h-1zM841 366h2v1h-2zM899 366h1v1h-1zM912 366h2v1h-2zM763 367h1v1h-1zM838 367h3v1h-3zM900 367h1v1h-1zM909 367h3v1h-3zM763 368h1v1h-1zM836 368h2v1h-2zM901 368h2v1h-2zM905 368h4v1h-4zM764 369h1v1h-1zM834 369h2v1h-2zM903 369h2v1h-2zM764 370h1v1h-1zM832 370h2v1h-2zM764 371h1v1h-1zM831 371h1v1h-1zM765 372h1v1h-1zM829 372h2v1h-2zM765 373h1v1h-1zM827 373h2v1h-2zM765 374h1v1h-1zM826 374h1v1h-1zM766 375h1v1h-1zM824 375h2v1h-2zM766 376h1v1h-1zM823 376h1v1h-1zM767 377h1v1h-1zM821 377h2v1h-2zM767 378h1v1h-1zM819 378h2v1h-2zM768 379h2v1h-2zM818 379h1v1h-1zM770 380h1v1h-1zM816 380h2v1h-2zM771 381h2v1h-2zM815 381h1v1h-1zM773 382h2v1h-2zM813 382h2v1h-2zM775 383h1v1h-1zM811 383h2v1h-2zM776 384h1v1h-1zM810 384h1v1h-1zM777 385h1v1h-1zM808 385h2v1h-2zM777 386h1v1h-1zM807 386h1v1h-1zM778 387h1v1h-1zM806 387h1v1h-1zM779 388h1v1h-1zM805 388h1v1h-1zM780 389h1v1h-1zM804 389h1v1h-1zM781 390h1v1h-1zM803 390h1v1h-1zM781 391h1v1h-1zM803 391h1v1h-1zM782 392h1v1h-1zM802 392h1v1h-1zM783 393h1v1h-1zM801 393h1v1h-1zM784 394h2v1h-2zM800 394h1v1h-1zM786 395h2v1h-2zM797 395h3v1h-3zM788 396h2v1h-2zM793 396h4v1h-4zM790 397h3v1h-3z" fill="#0000cd" />
<rect x="7" y="104" width="1" height="19" fill="#32cd32"/>
<rect x="5" y="110" width="5" height="2" fill="#32cd32"/>
<rect x="15" y="85" width="1" height="38" fill="#ff0000"/>
<rect x="13" y="109" width="5" height="3" fill="#ff0000"/>
<rect x="14" y="110" width="3" height="1" fill="#ff4500"/>
<rect x="23" y="95" width="1" height="25" fill="#ff0000"/>
<rect x="21" y="98" width="5" height="12" fill="#ff0000"/>
<rect x="22" y="99" width="3" height="10" fill="#ff4500"/>
<rect x="31" y="71" width="1" height="28" fill="#ff0000"/>
<rect x="29" y="72" width="5" height="27" fill="#ff0000"/>
<rect x="30" y="73" width="3" height="25" fill="#ff4500"/>
<rect x="39" y="66" width="1" height="12" fill="#32cd32"/>
<rect x="37" y="72" width="5" height="5" fill="#32cd32"/>
<rect x="47" y="49" width="1" height="32" fill="#ff0000"/>
<rect x="45" y="54" width="5" height="20" fill="#ff0000"/>
<rect x="46" y="55" width="3" height="18" fill="#ff4500"/>
<rect x="55" y="46" width="1" height="34" fill="#32cd32"/>
<rect x="53" y="54" width="5" height="20" fill="#32cd32"/>
<rect x="63" y="67" width="1" height="20" fill="#32cd32"/>
<rect x="61" y="72" width="5" height="6" fill="#32cd32"/>
<rect x="71" y="72" width="1" height="31" fill="#32cd32"/>
<rect x="69" y="77" width="5" height="18" fill="#32cd32"/>
<rect x="79" y="78" width="1" height="38" fill="#32cd32"/>
<rect x="77" y="94" width="5" height="13" fill="#32cd32"/>
<rect x="87" y="104" width="1" height="18" fill="#32cd32"/>
<rect x="85" y="106" width="5" height="4" fill="#32cd32"/>
<rect x="95" y="83" width="1" height="26" fill="#ff0000"/>
<rect x="93" y="95" width="5" height="4" fill="#ff0000"/>
<rect x="94" y="96" width="3" height="2" fill="#ff4500"/>
<rect x="103" y="76" width="1" height="21" fill="#ff0000"/>
<rect x="101" y="84" width="5" height="12" fill="#ff0000"/>
<rect x="102" y="85" width="3" height="10" fill="#ff4500"/>
<rect x="111" y="71" width="1" height="36" fill="#32cd32"/>
<rect x="109" y="84" width="5" height="17" fill="#32cd32"/>
<rect x="119" y="95" width="1" height="16" fill="#ff0000"/>
<rect x="117" y="98" width="5" height="3" fill="#ff0000"/>
<rect x="118" y="99" width="3" height="1" fill="#ff4500"/>
<rect x="127" y="75" width="1" height="31" fill="#ff0000"/>
<rect x="125" y="81" width="5" height="19" fill="#ff0000"/>
<rect x="126" y="82" width="3" height="17" fill="#ff4500"/>
<rect x="135" y="75" width="1" height="9" fill="#ff0000"/>
<rect x="133" y="76" width="5" height="5" fill="#ff0000"/>
<rect x="134" y="77" width="3" height="3" fill="#ff4500"/>
<rect x="143" y="77" width="1" height="20" fill="#32cd32"/>
<rect x="141" y="82" width="5" height="7" fill="#32cd32"/>
<rect x="151" y="67" width="1" height="27" fill="#ff0000"/>
<rect x="149" y="68" width="5" height="20" fill="#ff0000"/>
<rect x="150" y="69" width="3" height="18" fill="#ff4500"/>
<rect x="159" y="60" width="1" height="14" fill="#ff0000"/>
<rect x="157" y="64" width="5" height="5" fill="#ff0000"/>
<rect x="158" y="65" width="3" height="3" fill="#ff4500"/>
<rect x="167" y="63" width="1" height="34" fill="#32cd32"/>
<rect x="165" y="64" width="5" height="25" fill="#32cd32"/>
<rect x="175" y="63" width="1" height="32" fill="#ff0000"/>
<rect x="173" y="64" width="5" height="24" fill="#ff0000"/>
<rect x="174" y="65" width="3" height="22" fill="#ff4500"/>
<rect x="183" y="63" width="1" height="14" fill="#32cd32"/>
<rect x="181" y="64" width="5" height="9" fill="#32cd32"/>
<rect x="191" y="101" width="1" height="61" fill="#32cd32"/>
<rect x="189" y="110" width="5" height="48" fill="#32cd32"/>
<rect x="199" y="157" width="1" height="71" fill="#32cd32"/>
<rect x="197" y="157" width="5" height="47" fill="#32cd32"/>
<rect x="207" y="168" width="1" height="42" fill="#ff0000"/>
<rect x="205" y="183" width="5" height="21" fill="#ff0000"/>
<rect x="206" y="184" width="3" height="19" fill="#ff4500"/>
<rect x="215" y="125" width="1" height="66" fill="#ff0000"/>
<rect x="213" y="150" width="5" height="34" fill="#ff0000"/>
<rect x="214" y="151" width="3" height="32" fill="#ff4500"/>
<rect x="223" y="139" width="1" height="39" fill="#32cd32"/>
<rect x="221" y="150" width="5" height="7" fill="#32cd32"/>
<rect x="231" y="145" width="1" height="14" fill="#ff0000"/>
<rect x="229" y="155" width="5" height="3" fill="#ff0000"/>
<rect x="230" y="156" width="3" height="1" fill="#ff4500"/>
<rect x="239" y="109" width="1" height="47" fill="#ff0000"/>
<rect x="237" y="110" width="5" height="46" fill="#ff0000"/>
<rect x="238" y="111" width="3" height="44" fill="#ff4500"/>
<rect x="247" y="106" width="1" height="38" fill="#32cd32"/>
<rect x="245" y="111" width="5" height="19" fill="#32cd32"/>
<rect x="255" y="121" width="1" height="50" fill="#32cd32"/>
<rect x="253" y="129" width="5" height="38" fill="#32cd32"/>
<rect x="263" y="149" width="1" height="41" fill="#ff0000"/>
<rect x="261" y="155" width="5" height="12" fill="#ff0000"/>
<rect x="262" y="156" width="3" height="10" fill="#ff4500"/>
<rect x="271" y="119" width="1" height="45" fill="#ff0000"/>
<rect x="269" y="129" width="5" height="27" fill="#ff0000"/>
<rect x="270" y="130" width="3" height="25" fill="#ff4500"/>
<rect x="279" y="129" width="1" height="10" fill="#32cd32"/>
<rect x="277" y="129" width="5" height="2" fill="#32cd32"/>
<rect x="287" y="128" width="1" height="16" fill="#32cd32"/>
<rect x="285" y="130" width="5" height="5" fill="#32cd32"/>
<rect x="295" y="133" width="1" height="18" fill="#32cd32"/>
<rect x="293" y="135" width="5" height="2" fill="#32cd32"/>
<rect x="303" y="135" width="1" height="19" fill="#32cd32"/>
<rect x="301" y="136" width="5" height="7" fill="#32cd32"/>
<rect x="311" y="115" width="1" height="42" fill="#ff0000"/>
<rect x="309" y="136" width="5" height="7" fill="#ff0000"/>
<rect x="310" y="137" width="3" height="5" fill="#ff4500"/>
<rect x="319" y="115" width="1" height="37" fill="#ff0000"/>
<rect x="317" y="117" width="5" height="20" fill="#ff0000"/>
<rect x="318" y="118" width="3" height="18" fill="#ff4500"/>
<rect x="327" y="110" width="1" height="11" fill="#ff0000"/>
<rect x="325" y="111" width="5" height="7" fill="#ff0000"/>
<rect x="326" y="112" width="3" height="5" fill="#ff4500"/>
<rect x="335" y="107" width="1" height="30" fill="#32cd32"/>
<rect x="333" y="108" width="5" height="23" fill="#32cd32"/>
<rect x="343" y="127" width="1" height="9" fill="#32cd32"/>
<rect x="341" y="129" width="5" height="6" fill="#32cd32"/>
<rect x="351" y="135" width="1" height="19" fill="#32cd32"/>
<rect x="349" y="142" width="5" height="12" fill="#32cd32"/>
<rect x="359" y="133" width="1" height="37" fill="#32cd32"/>
<rect x="357" y="153" width="5" height="3" fill="#32cd32"/>
<rect x="367" y="150" width="1" height="32" fill="#ff0000"/>
<rect x="365" y="154" width="5" height="4" fill="#ff0000"/>
<rect x="366" y="155" width="3" height="2" fill="#ff4500"/>
<rect x="375" y="150" width="1" height="10" fill="#32cd32"/>
<rect x="373" y="155" width="5" height="4" fill="#32cd32"/>
<rect x="383" y="151" width="1" height="22" fill="#32cd32"/>
<rect x="381" y="158" width="5" height="15" fill="#32cd32"/>
<rect x="391" y="168" width="1" height="10" fill="#32cd32"/>
<rect x="389" y="172" width="5" height="4" fill="#32cd32"/>
<rect x="399" y="160" width="1" height="27" fill="#ff0000"/>
<rect x="397" y="162" width="5" height="17" fill="#ff0000"/>
<rect x="398" y="163" width="3" height="15" fill="#ff4500"/>
<rect x="407" y="141" width="1" height="26" fill="#ff0000"/>
<rect x="405" y="156" width="5" height="8" fill="#ff0000"/>
<rect x="406" y="157" width="3" height="6" fill="#ff4500"/>
<rect x="415" y="153" width="1" height="21" fill="#32cd32"/>
<rect x="413" y="156" width="5" height="17" fill="#32cd32"/>
<rect x="423" y="169" width="1" height="12" fill="#32cd32"/>
<rect x="421" y="172" width="5" height="8" fill="#32cd32"/>
<rect x="431" y="178" width="1" height="26" fill="#32cd32"/>
<rect x="429" y="181" width="5" height="20" fill="#32cd32"/>
<rect x="439" y="174" width="1" height="33" fill="#ff0000"/>
<rect x="437" y="191" width="5" height="9" fill="#ff0000"/>
<rect x="438" y="192" width="3" height="7" fill="#ff4500"/>
<rect x="447" y="191" width="1" height="54" fill="#32cd32"/>
<rect x="445" y="191" width="5" height="44" fill="#32cd32"/>
<rect x="455" y="229" width="1" height="57" fill="#32cd32"/>
<rect x="453" y="234" width="5" height="42" fill="#32cd32"/>
<rect x="463" y="266" width="1" height="74" fill="#32cd32"/>
<rect x="461" y="275" width="5" height="37" fill="#32cd32"/>
<rect x="471" y="304" width="1" height="10" fill="#ff0000"/>
<rect x="469" y="309" width="5" height="4" fill="#ff0000"/>
<rect x="470" y="310" width="3" height="2" fill="#ff4500"/>
<rect x="479" y="290" width="1" height="48" fill="#ff0000"/>
<rect x="477" y="304" width="5" height="6" fill="#ff0000"/>
<rect x="478" y="305" width="3" height="4" fill="#ff4500"/>
<rect x="487" y="290" width="1" height="42" fill="#ff0000"/>
<rect x="485" y="299" width="5" height="6" fill="#ff0000"/>
<rect x="486" y="300" width="3" height="4" fill="#ff4500"/>
<rect x="495" y="276" width="1" height="35" fill="#32cd32"/>
<rect x="493" y="299" width="5" height="7" fill="#32cd32"/>
<rect x="503" y="269" width="1" height="51" fill="#ff0000"/>
<rect x="501" y="270" width="5" height="37" fill="#ff0000"/>
<rect x="502" y="271" width="3" height="35" fill="#ff4500"/>
<rect x="511" y="269" width="1" height="35" fill="#ff0000"/>
<rect x="509" y="269" width="5" height="2" fill="#ff0000"/>
<rect x="519" y="252" width="1" height="19" fill="#ff0000"/>
<rect x="517" y="255" width="5" height="15" fill="#ff0000"/>
<rect x="518" y="256" width="3" height="13" fill="#ff4500"/>
<rect x="527" y="249" width="1" height="24" fill="#32cd32"/>
<rect x="525" y="255" width="5" height="3" fill="#32cd32"/>
<rect x="535" y="236" width="1" height="25" fill="#ff0000"/>
<rect x="533" y="245" width="5" height="14" fill="#ff0000"/>
<rect x="534" y="246" width="3" height="12" fill="#ff4500"/>
<rect x="543" y="238" width="1" height="41" fill="#32cd32"/>
<rect x="541" y="245" width="5" height="22" fill="#32cd32"/>
<rect x="551" y="247" width="1" height="39" fill="#ff0000"/>
<rect x="549" y="263" width="5" height="4" fill="#ff0000"/>
<rect x="550" y="264" width="3" height="2" fill="#ff4500"/>
<rect x="559" y="256" width="1" height="65" fill="#32cd32"/>
<rect x="557" y="262" width="5" height="55" fill="#32cd32"/>
<rect x="567" y="313" width="1" height="8" fill="#32cd32"/>
<rect x="565" y="315" width="5" height="5" fill="#32cd32"/>
<rect x="575" y="310" width="1" height="33" fill="#ff0000"/>
<rect x="573" y="316" width="5" height="2" fill="#ff0000"/>
<rect x="583" y="303" width="1" height="24" fill="#32cd32"/>
<rect x="581" y="315" width="5" height="11" fill="#32cd32"/>
<rect x="591" y="322" width="1" height="32" fill="#32cd32"/>
<rect x="589" y="325" width="5" height="29" fill="#32cd32"/>
<rect x="599" y="346" width="1" height="39" fill="#32cd32"/>
<rect x="597" y="353" width="5" height="23" fill="#32cd32"/>
<rect x="607" y="318" width="1" height="63" fill="#ff0000"/>
<rect x="605" y="321" width="5" height="56" fill="#ff0000"/>
<rect x="606" y="322" width="3" height="54" fill="#ff4500"/>
<rect x="615" y="313" width="1" height="12" fill="#ff0000"/>
<rect x="613" y="316" width="5" height="6" fill="#ff0000"/>
<rect x="614" y="317" width="3" height="4" fill="#ff4500"/>
<rect x="623" y="278" width="1" height="46" fill="#ff0000"/>
<rect x="621" y="289" width="5" height="30" fill="#ff0000"/>
<rect x="622" y="290" width="3" height="28" fill="#ff4500"/>
<rect x="631" y="281" width="1" height="40" fill="#32cd32"/>
<rect x="629" y="289" width="5" height="18" fill="#32cd32"/>
<rect x="639" y="290" width="1" height="26" fill="#ff0000"/>
<rect x="637" y="294" width="5" height="13" fill="#ff0000"/>
<rect x="638" y="295" width="3" height="11" fill="#ff4500"/>
<rect x="647" y="279" width="1" height="19" fill="#ff0000"/>
<rect x="645" y="287" width="5" height="8" fill="#ff0000"/>
<rect x="646" y="288" width="3" height="6" fill="#ff4500"/>
<rect x="655" y="267" width="1" height="26" fill="#ff0000"/>
<rect x="653" y="282" width="5" height="6" fill="#ff0000"/>
<rect x="654" y="283" width="3" height="4" fill="#ff4500"/>
<rect x="663" y="276" width="1" height="9" fill="#ff0000"/>
<rect x="661" y="281" width="5" height="2" fill="#ff0000"/>
<rect x="671" y="259" width="1" height="46" fill="#ff0000"/>
<rect x="669" y="259" width="5" height="23" fill="#ff0000"/>
<rect x="670" y="260" width="3" height="21" fill="#ff4500"/>
<rect x="679" y="249" width="1" height="42" fill="#32cd32"/>
<rect x="677" y="259" width="5" height="32" fill="#32cd32"/>
<rect x="687" y="285" width="1" height="28" fill="#ff0000"/>
<rect x="685" y="290" width="5" height="1" fill="#ff0000"/>
<rect x="695" y="276" width="1" height="31" fill="#ff0000"/>
<rect x="693" y="279" width="5" height="12" fill="#ff0000"/>
<rect x="694" y="280" width="3" height="10" fill="#ff4500"/>
<rect x="703" y="267" width="1" height="24" fill="#32cd32"/>
<rect x="701" y="279" width="5" height="6" fill="#32cd32"/>
<rect x="711" y="283" width="1" height="16" fill="#32cd32"/>
<rect x="709" y="284" width="5" height="14" fill="#32cd32"/>
<rect x="719" y="290" width="1" height="21" fill="#ff0000"/>
<rect x="717" y="291" width="5" height="7" fill="#ff0000"/>
<rect x="718" y="292" width="3" height="5" fill="#ff4500"/>
<rect x="727" y="278" width="1" height="31" fill="#32cd32"/>
<rect x="725" y="291" width="5" height="17" fill="#32cd32"/>
<rect x="735" y="304" width="1" height="65" fill="#32cd32"/>
<rect x="733" y="307" width="5" height="62" fill="#32cd32"/>
<rect x="743" y="352" width="1" height="50" fill="#ff0000"/>
<rect x="741" y="356" width="5" height="13" fill="#ff0000"/>
<rect x="742" y="357" width="3" height="11" fill="#ff4500"/>
<rect x="751" y="343" width="1" height="31" fill="#32cd32"/>
<rect x="749" y="356" width="5" height="15" fill="#32cd32"/>
<rect x="759" y="369" width="1" height="17" fill="#32cd32"/>
<rect x="757" y="370" width="5" height="16" fill="#32cd32"/>
<rect x="767" y="389" width="1" height="31" fill="#32cd32"/>
<rect x="765" y="397" width="5" height="15" fill="#32cd32"/>
<rect x="775" y="380" width="1" height="34" fill="#ff0000"/>
<rect x="773" y="394" width="5" height="19" fill="#ff0000"/>
<rect x="774" y="395" width="3" height="17" fill="#ff4500"/>
<rect x="783" y="393" width="1" height="24" fill="#32cd32"/>
<rect x="781" y="393" width="5" height="12" fill="#32cd32"/>
<rect x="791" y="390" width="1" height="28" fill="#ff0000"/>
<rect x="789" y="392" width="5" height="13" fill="#ff0000"/>
<rect x="790" y="393" width="3" height="11" fill="#ff4500"/>
<rect x="799" y="369" width="1" height="29" fill="#ff0000"/>
<rect x="797" y="374" width="5" height="19" fill="#ff0000"/>
<rect x="798" y="375" width="3" height="17" fill="#ff4500"/>
<rect x="807" y="364" width="1" height="12" fill="#ff0000"/>
<rect x="805" y="365" width="5" height="10" fill="#ff0000"/>
<rect x="806" y="366" width="3" height="8" fill="#ff4500"/>
<rect x="815" y="371" width="1" height="33" fill="#ff0000"/>
<rect x="813" y="373" width="5" height="16" fill="#ff0000"/>
<rect x="814" y="374" width="3" height="14" fill="#ff4500"/>
<rect x="823" y="371" width="1" height="18" fill="#32cd32"/>
<rect x="821" y="375" width="5" height="2" fill="#32cd32"/>
<rect x="831" y="352" width="1" height="30" fill="#ff0000"/>
<rect x="829" y="365" width="5" height="12" fill="#ff0000"/>
<rect x="830" y="366" width="3" height="10" fill="#ff4500"/>
<rect x="839" y="354" width="1" height="19" fill="#ff0000"/>
<rect x="837" y="354" width="5" height="12" fill="#ff0000"/>
<rect x="838" y="355" width="3" height="10" fill="#ff4500"/>
<rect x="847" y="339" width="1" height="17" fill="#ff0000"/>
<rect x="845" y="350" width="5" height="5" fill="#ff0000"/>
<rect x="846" y="351" width="3" height="3" fill="#ff4500"/>
<rect x="855" y="345" width="1" height="10" fill="#ff0000"/>
<rect x="853" y="347" width="5" height="4" fill="#ff0000"/>
<rect x="854" y="348" width="3" height="2" fill="#ff4500"/>
<rect x="863" y="342" width="1" height="9" fill="#ff0000"/>
<rect x="861" y="343" width="5" height="4" fill="#ff0000"/>
<rect x="862" y="344" width="3" height="2" fill="#ff4500"/>
<rect x="871" y="342" width="1" height="30" fill="#32cd32"/>
<rect x="869" y="342" width="5" height="29" fill="#32cd32"/>
<rect x="879" y="360" width="1" height="20" fill="#32cd32"/>
<rect x="877" y="370" width="5" height="7" fill="#32cd32"/>
<rect x="887" y="342" width="1" height="45" fill="#ff0000"/>
<rect x="885" y="357" width="5" height="21" fill="#ff0000"/>
<rect x="886" y="358" width="3" height="19" fill="#ff4500"/>
<rect x="895" y="345" width="1" height="29" fill="#32cd32"/>
<rect x="893" y="357" width="5" height="14" fill="#32cd32"/>
<rect x="903" y="368" width="1" height="5" fill="#32cd32"/>
<rect x="901" y="370" width="5" height="1" fill="#32cd32"/>
<rect x="911" y="357" width="1" height="15" fill="#ff0000"/>
<rect x="909" y="359" width="5" height="11" fill="#ff0000"/>
<rect x="910" y="360" width="3" height="9" fill="#ff4500"/>
<rect x="919" y="356" width="1" height="8" fill="#ff0000"/>
<rect x="917" y="359" width="5" height="1" fill="#ff0000"/>
<rect x="459" y="274" width="545" height="2" fill="#ff3c3c"/>
<rect x="598" y="382" width="406" height="2" fill="#9acd00"/>
</g>
<path d="M10,33 L17,33 L13.5,37 Z" fill="#000" shape-rendering="auto"/>
<text x="22.5" y="38" font-family="Liberation Sans, sans-serif" font-size="9.6" fill="#000" stroke="#000" stroke-width="0.15" textLength="65.5" lengthAdjust="spacingAndGlyphs">USDCNH,Daily</text>
<text x="94.2" y="38" font-family="Liberation Sans, sans-serif" font-size="9.6" fill="#000" stroke="#000" stroke-width="0.15" textLength="33.5" lengthAdjust="spacingAndGlyphs">6.72018</text>
<text x="130" y="38" font-family="Liberation Sans, sans-serif" font-size="9.6" fill="#000" stroke="#000" stroke-width="0.15" textLength="33.5" lengthAdjust="spacingAndGlyphs">6.72314</text>
<text x="165.9" y="38" font-family="Liberation Sans, sans-serif" font-size="9.6" fill="#000" stroke="#000" stroke-width="0.15" textLength="33.5" lengthAdjust="spacingAndGlyphs">6.71740</text>
<text x="201.8" y="38" font-family="Liberation Sans, sans-serif" font-size="9.6" fill="#000" stroke="#000" stroke-width="0.15" textLength="33.5" lengthAdjust="spacingAndGlyphs">6.72060</text>
<rect x="1170" y="30" width="2" height="1" fill="#000"/>
<text x="1175" y="34" font-family="Liberation Sans, sans-serif" font-size="9.6" fill="#000" stroke="#000" stroke-width="0.15" textLength="33.6" lengthAdjust="spacingAndGlyphs">6.98180</text>
<rect x="1170" y="63" width="2" height="1" fill="#000"/>
<text x="1175" y="67" font-family="Liberation Sans, sans-serif" font-size="9.6" fill="#000" stroke="#000" stroke-width="0.15" textLength="33.6" lengthAdjust="spacingAndGlyphs">6.95555</text>
<rect x="1170" y="96" width="2" height="1" fill="#000"/>
<text x="1175" y="100" font-family="Liberation Sans, sans-serif" font-size="9.6" fill="#000" stroke="#000" stroke-width="0.15" textLength="33.6" lengthAdjust="spacingAndGlyphs">6.92930</text>
<rect x="1170" y="129" width="2" height="1" fill="#000"/>
<text x="1175" y="133" font-family="Liberation Sans, sans-serif" font-size="9.6" fill="#000" stroke="#000" stroke-width="0.15" textLength="33.6" lengthAdjust="spacingAndGlyphs">6.90305</text>
<rect x="1170" y="162" width="2" height="1" fill="#000"/>
<text x="1175" y="166" font-family="Liberation Sans, sans-serif" font-size="9.6" fill="#000" stroke="#000" stroke-width="0.15" textLength="33.6" lengthAdjust="spacingAndGlyphs">6.87680</text>
<rect x="1170" y="195" width="2" height="1" fill="#000"/>
<text x="1175" y="199" font-family="Liberation Sans, sans-serif" font-size="9.6" fill="#000" stroke="#000" stroke-width="0.15" textLength="33.6" lengthAdjust="spacingAndGlyphs">6.85055</text>
<rect x="1170" y="228" width="2" height="1" fill="#000"/>
<text x="1175" y="232" font-family="Liberation Sans, sans-serif" font-size="9.6" fill="#000" stroke="#000" stroke-width="0.15" textLength="33.6" lengthAdjust="spacingAndGlyphs">6.82430</text>
<rect x="1170" y="261" width="2" height="1" fill="#000"/>
<text x="1175" y="265" font-family="Liberation Sans, sans-serif" font-size="9.6" fill="#000" stroke="#000" stroke-width="0.15" textLength="33.6" lengthAdjust="spacingAndGlyphs">6.79805</text>
<rect x="1170" y="294" width="2" height="1" fill="#000"/>
<text x="1175" y="298" font-family="Liberation Sans, sans-serif" font-size="9.6" fill="#000" stroke="#000" stroke-width="0.15" textLength="33.6" lengthAdjust="spacingAndGlyphs">6.77180</text>
<rect x="1170" y="327" width="2" height="1" fill="#000"/>
<text x="1175" y="331" font-family="Liberation Sans, sans-serif" font-size="9.6" fill="#000" stroke="#000" stroke-width="0.15" textLength="33.6" lengthAdjust="spacingAndGlyphs">6.74555</text>
<rect x="1170" y="393" width="2" height="1" fill="#000"/>
<text x="1175" y="397" font-family="Liberation Sans, sans-serif" font-size="9.6" fill="#000" stroke="#000" stroke-width="0.15" textLength="33.6" lengthAdjust="spacingAndGlyphs">6.69380</text>
<rect x="1170" y="426" width="2" height="1" fill="#000"/>
<text x="1175" y="430" font-family="Liberation Sans, sans-serif" font-size="9.6" fill="#000" stroke="#000" stroke-width="0.15" textLength="33.6" lengthAdjust="spacingAndGlyphs">6.66755</text>
<rect x="1170" y="360" width="2" height="1" fill="#000"/>
<rect x="1171" y="354" width="41" height="11" fill="#000"/>
<text x="1175" y="363" font-family="Liberation Sans, sans-serif" font-size="9.6" fill="#fff" stroke="#fff" stroke-width="0.15" textLength="33.4" lengthAdjust="spacingAndGlyphs">6.72060</text>
<g clip-path="url(#cr)">
<line x1="8" y1="455.5" x2="1169" y2="455.5" stroke="#c0c0c0" stroke-dasharray="3,3"/>
<line x1="8" y1="485.5" x2="1169" y2="485.5" stroke="#c0c0c0" stroke-dasharray="3,3"/>
<path d="M46 461h2v1h-2zM44 462h2v1h-2zM48 462h2v1h-2zM42 463h2v1h-2zM50 463h1v1h-1zM31 464h4v1h-4zM40 464h2v1h-2zM51 464h2v1h-2zM155 464h5v1h-5zM29 465h2v1h-2zM35 465h5v1h-5zM53 465h2v1h-2zM150 465h5v1h-5zM160 465h1v1h-1zM175 465h2v1h-2zM27 466h2v1h-2zM55 466h4v1h-4zM131 466h6v1h-6zM148 466h2v1h-2zM161 466h2v1h-2zM173 466h2v1h-2zM177 466h4v1h-4zM670 466h2v1h-2zM26 467h1v1h-1zM59 467h6v1h-6zM126 467h5v1h-5zM137 467h2v1h-2zM146 467h2v1h-2zM163 467h1v1h-1zM171 467h2v1h-2zM181 467h3v1h-3zM668 467h2v1h-2zM672 467h1v1h-1zM24 468h2v1h-2zM65 468h2v1h-2zM101 468h4v1h-4zM124 468h2v1h-2zM139 468h3v1h-3zM144 468h2v1h-2zM164 468h1v1h-1zM170 468h1v1h-1zM184 468h1v1h-1zM323 468h6v1h-6zM666 468h2v1h-2zM673 468h2v1h-2zM21 469h3v1h-3zM67 469h3v1h-3zM97 469h4v1h-4zM105 469h2v1h-2zM122 469h2v1h-2zM142 469h2v1h-2zM165 469h2v1h-2zM168 469h2v1h-2zM184 469h1v1h-1zM239 469h2v1h-2zM318 469h5v1h-5zM329 469h2v1h-2zM664 469h2v1h-2zM675 469h1v1h-1zM17 470h4v1h-4zM70 470h3v1h-3zM94 470h3v1h-3zM107 470h3v1h-3zM120 470h2v1h-2zM167 470h1v1h-1zM185 470h1v1h-1zM238 470h1v1h-1zM241 470h2v1h-2zM315 470h3v1h-3zM331 470h3v1h-3zM651 470h13v1h-13zM676 470h1v1h-1zM693 470h6v1h-6zM859 470h5v1h-5zM6 471h11v1h-11zM73 471h4v1h-4zM91 471h3v1h-3zM110 471h10v1h-10zM185 471h1v1h-1zM237 471h1v1h-1zM243 471h3v1h-3zM270 471h13v1h-13zM313 471h2v1h-2zM334 471h5v1h-5zM643 471h8v1h-8zM677 471h2v1h-2zM689 471h4v1h-4zM699 471h6v1h-6zM843 471h16v1h-16zM864 471h2v1h-2zM77 472h6v1h-6zM89 472h2v1h-2zM186 472h1v1h-1zM235 472h2v1h-2zM246 472h2v1h-2zM267 472h3v1h-3zM283 472h16v1h-16zM307 472h6v1h-6zM339 472h6v1h-6zM623 472h2v1h-2zM637 472h6v1h-6zM679 472h10v1h-10zM705 472h4v1h-4zM715 472h6v1h-6zM837 472h6v1h-6zM866 472h1v1h-1zM886 472h3v1h-3zM909 472h11v1h-11zM83 473h6v1h-6zM187 473h1v1h-1zM234 473h1v1h-1zM248 473h2v1h-2zM265 473h2v1h-2zM299 473h8v1h-8zM345 473h2v1h-2zM405 473h3v1h-3zM621 473h2v1h-2zM625 473h4v1h-4zM633 473h4v1h-4zM709 473h6v1h-6zM721 473h2v1h-2zM833 473h4v1h-4zM867 473h2v1h-2zM884 473h2v1h-2zM889 473h4v1h-4zM905 473h4v1h-4zM187 474h1v1h-1zM233 474h1v1h-1zM250 474h2v1h-2zM261 474h4v1h-4zM347 474h3v1h-3zM401 474h4v1h-4zM408 474h2v1h-2zM534 474h3v1h-3zM619 474h2v1h-2zM629 474h4v1h-4zM723 474h3v1h-3zM830 474h3v1h-3zM869 474h2v1h-2zM882 474h2v1h-2zM893 474h12v1h-12zM188 475h1v1h-1zM232 475h1v1h-1zM252 475h2v1h-2zM257 475h4v1h-4zM350 475h21v1h-21zM398 475h3v1h-3zM410 475h2v1h-2zM531 475h3v1h-3zM537 475h2v1h-2zM618 475h1v1h-1zM726 475h2v1h-2zM805 475h6v1h-6zM827 475h3v1h-3zM871 475h4v1h-4zM880 475h2v1h-2zM189 476h1v1h-1zM215 476h17v1h-17zM254 476h3v1h-3zM371 476h6v1h-6zM395 476h3v1h-3zM412 476h2v1h-2zM518 476h5v1h-5zM529 476h2v1h-2zM539 476h3v1h-3zM616 476h2v1h-2zM728 476h1v1h-1zM801 476h4v1h-4zM811 476h8v1h-8zM825 476h2v1h-2zM875 476h5v1h-5zM189 477h1v1h-1zM213 477h2v1h-2zM377 477h4v1h-4zM393 477h2v1h-2zM414 477h5v1h-5zM516 477h2v1h-2zM523 477h6v1h-6zM542 477h10v1h-10zM607 477h9v1h-9zM729 477h1v1h-1zM798 477h3v1h-3zM819 477h6v1h-6zM190 478h1v1h-1zM211 478h2v1h-2zM381 478h12v1h-12zM419 478h6v1h-6zM514 478h2v1h-2zM552 478h1v1h-1zM606 478h1v1h-1zM730 478h1v1h-1zM796 478h2v1h-2zM190 479h1v1h-1zM210 479h1v1h-1zM425 479h2v1h-2zM437 479h3v1h-3zM512 479h2v1h-2zM553 479h1v1h-1zM606 479h1v1h-1zM731 479h1v1h-1zM794 479h2v1h-2zM191 480h1v1h-1zM208 480h2v1h-2zM427 480h3v1h-3zM433 480h4v1h-4zM440 480h1v1h-1zM503 480h9v1h-9zM554 480h1v1h-1zM605 480h1v1h-1zM732 480h1v1h-1zM742 480h3v1h-3zM792 480h2v1h-2zM192 481h2v1h-2zM206 481h2v1h-2zM430 481h3v1h-3zM441 481h2v1h-2zM502 481h1v1h-1zM555 481h2v1h-2zM604 481h1v1h-1zM733 481h1v1h-1zM739 481h3v1h-3zM745 481h4v1h-4zM789 481h3v1h-3zM194 482h2v1h-2zM203 482h3v1h-3zM443 482h1v1h-1zM501 482h1v1h-1zM557 482h1v1h-1zM604 482h1v1h-1zM734 482h1v1h-1zM737 482h2v1h-2zM749 482h6v1h-6zM774 482h5v1h-5zM785 482h4v1h-4zM196 483h2v1h-2zM201 483h2v1h-2zM444 483h1v1h-1zM500 483h1v1h-1zM558 483h1v1h-1zM571 483h8v1h-8zM603 483h1v1h-1zM735 483h2v1h-2zM755 483h6v1h-6zM772 483h2v1h-2zM779 483h6v1h-6zM198 484h3v1h-3zM445 484h2v1h-2zM499 484h1v1h-1zM559 484h12v1h-12zM579 484h6v1h-6zM602 484h1v1h-1zM761 484h2v1h-2zM770 484h2v1h-2zM447 485h1v1h-1zM499 485h1v1h-1zM585 485h2v1h-2zM602 485h1v1h-1zM763 485h3v1h-3zM768 485h2v1h-2zM448 486h2v1h-2zM498 486h1v1h-1zM587 486h3v1h-3zM601 486h1v1h-1zM766 486h2v1h-2zM450 487h2v1h-2zM497 487h1v1h-1zM590 487h3v1h-3zM600 487h1v1h-1zM452 488h2v1h-2zM483 488h8v1h-8zM496 488h1v1h-1zM593 488h4v1h-4zM600 488h1v1h-1zM454 489h3v1h-3zM477 489h6v1h-6zM491 489h5v1h-5zM597 489h3v1h-3zM457 490h4v1h-4zM473 490h4v1h-4zM461 491h12v1h-12z" fill="#1e90ff" />
</g>
<text x="11" y="444" font-family="Liberation Sans, sans-serif" font-size="9.6" fill="#000" stroke="#000" stroke-width="0.15" textLength="69" lengthAdjust="spacingAndGlyphs">RSI(14) 47.8779</text>
<rect x="1170" y="433" width="1" height="1" fill="#000"/>
<text x="1173" y="442" font-family="Liberation Sans, sans-serif" font-size="9.6" fill="#000" stroke="#000" stroke-width="0.15" textLength="15.37" lengthAdjust="spacingAndGlyphs">100</text>
<rect x="1170" y="455" width="1" height="1" fill="#000"/>
<text x="1173" y="459" font-family="Liberation Sans, sans-serif" font-size="9.6" fill="#000" stroke="#000" stroke-width="0.15" textLength="10.25" lengthAdjust="spacingAndGlyphs">70</text>
<rect x="1170" y="485" width="1" height="1" fill="#000"/>
<text x="1173" y="489" font-family="Liberation Sans, sans-serif" font-size="9.6" fill="#000" stroke="#000" stroke-width="0.15" textLength="10.25" lengthAdjust="spacingAndGlyphs">30</text>
<rect x="1170" y="507" width="1" height="1" fill="#000"/>
<text x="1173" y="505" font-family="Liberation Sans, sans-serif" font-size="9.6" fill="#000" stroke="#000" stroke-width="0.15" textLength="5.12" lengthAdjust="spacingAndGlyphs">0</text>
<g clip-path="url(#cd)">
<rect x="6" y="529" width="3" height="7" fill="#c0c0c0"/>
<rect x="14" y="531" width="3" height="5" fill="#c0c0c0"/>
<rect x="22" y="531" width="3" height="5" fill="#c0c0c0"/>
<rect x="30" y="529" width="3" height="7" fill="#c0c0c0"/>
<rect x="38" y="528" width="3" height="8" fill="#c0c0c0"/>
<rect x="46" y="525" width="3" height="11" fill="#c0c0c0"/>
<rect x="54" y="525" width="3" height="11" fill="#c0c0c0"/>
<rect x="62" y="525" width="3" height="11" fill="#c0c0c0"/>
<rect x="70" y="527" width="3" height="9" fill="#c0c0c0"/>
<rect x="78" y="530" width="3" height="6" fill="#c0c0c0"/>
<rect x="86" y="532" width="3" height="4" fill="#c0c0c0"/>
<rect x="94" y="533" width="3" height="3" fill="#c0c0c0"/>
<rect x="102" y="532" width="3" height="4" fill="#c0c0c0"/>
<rect x="110" y="533" width="3" height="3" fill="#c0c0c0"/>
<rect x="118" y="534" width="3" height="2" fill="#c0c0c0"/>
<rect x="126" y="533" width="3" height="3" fill="#c0c0c0"/>
<rect x="134" y="532" width="3" height="4" fill="#c0c0c0"/>
<rect x="142" y="532" width="3" height="4" fill="#c0c0c0"/>
<rect x="150" y="530" width="3" height="6" fill="#c0c0c0"/>
<rect x="158" y="529" width="3" height="7" fill="#c0c0c0"/>
<rect x="166" y="530" width="3" height="6" fill="#c0c0c0"/>
<rect x="174" y="528" width="3" height="8" fill="#c0c0c0"/>
<rect x="182" y="528" width="3" height="8" fill="#c0c0c0"/>
<rect x="190" y="536" width="3" height="1" fill="#c0c0c0"/>
<rect x="198" y="536" width="3" height="11" fill="#c0c0c0"/>
<rect x="206" y="536" width="3" height="17" fill="#c0c0c0"/>
<rect x="214" y="536" width="3" height="19" fill="#c0c0c0"/>
<rect x="222" y="536" width="3" height="20" fill="#c0c0c0"/>
<rect x="230" y="536" width="3" height="21" fill="#c0c0c0"/>
<rect x="238" y="536" width="3" height="18" fill="#c0c0c0"/>
<rect x="246" y="536" width="3" height="16" fill="#c0c0c0"/>
<rect x="254" y="536" width="3" height="18" fill="#c0c0c0"/>
<rect x="262" y="536" width="3" height="19" fill="#c0c0c0"/>
<rect x="270" y="536" width="3" height="17" fill="#c0c0c0"/>
<rect x="278" y="536" width="3" height="15" fill="#c0c0c0"/>
<rect x="286" y="536" width="3" height="13" fill="#c0c0c0"/>
<rect x="294" y="536" width="3" height="13" fill="#c0c0c0"/>
<rect x="302" y="536" width="3" height="12" fill="#c0c0c0"/>
<rect x="310" y="536" width="3" height="11" fill="#c0c0c0"/>
<rect x="318" y="536" width="3" height="9" fill="#c0c0c0"/>
<rect x="326" y="536" width="3" height="6" fill="#c0c0c0"/>
<rect x="334" y="536" width="3" height="5" fill="#c0c0c0"/>
<rect x="342" y="536" width="3" height="5" fill="#c0c0c0"/>
<rect x="350" y="536" width="3" height="7" fill="#c0c0c0"/>
<rect x="358" y="536" width="3" height="9" fill="#c0c0c0"/>
<rect x="366" y="536" width="3" height="9" fill="#c0c0c0"/>
<rect x="374" y="536" width="3" height="10" fill="#c0c0c0"/>
<rect x="382" y="536" width="3" height="12" fill="#c0c0c0"/>
<rect x="390" y="536" width="3" height="14" fill="#c0c0c0"/>
<rect x="398" y="536" width="3" height="14" fill="#c0c0c0"/>
<rect x="406" y="536" width="3" height="13" fill="#c0c0c0"/>
<rect x="414" y="536" width="3" height="14" fill="#c0c0c0"/>
<rect x="422" y="536" width="3" height="15" fill="#c0c0c0"/>
<rect x="430" y="536" width="3" height="18" fill="#c0c0c0"/>
<rect x="438" y="536" width="3" height="19" fill="#c0c0c0"/>
<rect x="446" y="536" width="3" height="23" fill="#c0c0c0"/>
<rect x="454" y="536" width="3" height="30" fill="#c0c0c0"/>
<rect x="462" y="536" width="3" height="39" fill="#c0c0c0"/>
<rect x="470" y="536" width="3" height="45" fill="#c0c0c0"/>
<rect x="478" y="536" width="3" height="49" fill="#c0c0c0"/>
<rect x="486" y="536" width="3" height="51" fill="#c0c0c0"/>
<rect x="494" y="536" width="3" height="52" fill="#c0c0c0"/>
<rect x="502" y="536" width="3" height="50" fill="#c0c0c0"/>
<rect x="510" y="536" width="3" height="47" fill="#c0c0c0"/>
<rect x="518" y="536" width="3" height="43" fill="#c0c0c0"/>
<rect x="526" y="536" width="3" height="39" fill="#c0c0c0"/>
<rect x="534" y="536" width="3" height="35" fill="#c0c0c0"/>
<rect x="542" y="536" width="3" height="33" fill="#c0c0c0"/>
<rect x="550" y="536" width="3" height="31" fill="#c0c0c0"/>
<rect x="558" y="536" width="3" height="34" fill="#c0c0c0"/>
<rect x="566" y="536" width="3" height="36" fill="#c0c0c0"/>
<rect x="574" y="536" width="3" height="37" fill="#c0c0c0"/>
<rect x="582" y="536" width="3" height="39" fill="#c0c0c0"/>
<rect x="590" y="536" width="3" height="42" fill="#c0c0c0"/>
<rect x="598" y="536" width="3" height="46" fill="#c0c0c0"/>
<rect x="606" y="536" width="3" height="43" fill="#c0c0c0"/>
<rect x="614" y="536" width="3" height="41" fill="#c0c0c0"/>
<rect x="622" y="536" width="3" height="35" fill="#c0c0c0"/>
<rect x="630" y="536" width="3" height="33" fill="#c0c0c0"/>
<rect x="638" y="536" width="3" height="29" fill="#c0c0c0"/>
<rect x="646" y="536" width="3" height="25" fill="#c0c0c0"/>
<rect x="654" y="536" width="3" height="21" fill="#c0c0c0"/>
<rect x="662" y="536" width="3" height="18" fill="#c0c0c0"/>
<rect x="670" y="536" width="3" height="13" fill="#c0c0c0"/>
<rect x="678" y="536" width="3" height="12" fill="#c0c0c0"/>
<rect x="686" y="536" width="3" height="11" fill="#c0c0c0"/>
<rect x="694" y="536" width="3" height="9" fill="#c0c0c0"/>
<rect x="702" y="536" width="3" height="8" fill="#c0c0c0"/>
<rect x="710" y="536" width="3" height="8" fill="#c0c0c0"/>
<rect x="718" y="536" width="3" height="8" fill="#c0c0c0"/>
<rect x="726" y="536" width="3" height="9" fill="#c0c0c0"/>
<rect x="734" y="536" width="3" height="15" fill="#c0c0c0"/>
<rect x="742" y="536" width="3" height="19" fill="#c0c0c0"/>
<rect x="750" y="536" width="3" height="23" fill="#c0c0c0"/>
<rect x="758" y="536" width="3" height="27" fill="#c0c0c0"/>
<rect x="766" y="536" width="3" height="32" fill="#c0c0c0"/>
<rect x="774" y="536" width="3" height="35" fill="#c0c0c0"/>
<rect x="782" y="536" width="3" height="37" fill="#c0c0c0"/>
<rect x="790" y="536" width="3" height="37" fill="#c0c0c0"/>
<rect x="798" y="536" width="3" height="35" fill="#c0c0c0"/>
<rect x="806" y="536" width="3" height="33" fill="#c0c0c0"/>
<rect x="814" y="536" width="3" height="31" fill="#c0c0c0"/>
<rect x="822" y="536" width="3" height="30" fill="#c0c0c0"/>
<rect x="830" y="536" width="3" height="27" fill="#c0c0c0"/>
<rect x="838" y="536" width="3" height="24" fill="#c0c0c0"/>
<rect x="846" y="536" width="3" height="21" fill="#c0c0c0"/>
<rect x="854" y="536" width="3" height="18" fill="#c0c0c0"/>
<rect x="862" y="536" width="3" height="15" fill="#c0c0c0"/>
<rect x="870" y="536" width="3" height="15" fill="#c0c0c0"/>
<rect x="878" y="536" width="3" height="15" fill="#c0c0c0"/>
<rect x="886" y="536" width="3" height="14" fill="#c0c0c0"/>
<rect x="894" y="536" width="3" height="13" fill="#c0c0c0"/>
<rect x="902" y="536" width="3" height="13" fill="#c0c0c0"/>
<rect x="910" y="536" width="3" height="12" fill="#c0c0c0"/>
<rect x="918" y="536" width="3" height="10" fill="#c0c0c0"/>
<path d="M6 515h1v1h-1zM7 516h2v1h-2zM9 517h2v1h-2zM11 518h3v1h-3zM14 519h3v1h-3zM17 520h2v1h-2zM19 521h3v1h-3zM22 522h3v1h-3zM25 523h4v1h-4zM29 524h4v1h-4zM33 525h4v1h-4zM37 526h6v1h-6zM43 527h8v1h-8zM51 528h40v1h-40zM91 529h24v1h-24zM115 530h8v1h-8zM123 531h8v1h-8zM179 531h14v1h-14zM131 532h8v1h-8zM155 532h24v1h-24zM193 532h4v1h-4zM139 533h16v1h-16zM197 533h4v1h-4zM201 534h4v1h-4zM205 535h4v1h-4zM209 536h4v1h-4zM213 537h4v1h-4zM217 538h2v1h-2zM219 539h3v1h-3zM222 540h3v1h-3zM225 541h2v1h-2zM227 542h3v1h-3zM230 543h3v1h-3zM371 543h16v1h-16zM233 544h2v1h-2zM347 544h24v1h-24zM387 544h8v1h-8zM235 545h3v1h-3zM341 545h6v1h-6zM395 545h8v1h-8zM731 545h8v1h-8zM238 546h3v1h-3zM337 546h4v1h-4zM403 546h8v1h-8zM723 546h8v1h-8zM739 546h8v1h-8zM241 547h4v1h-4zM331 547h6v1h-6zM411 547h8v1h-8zM717 547h6v1h-6zM747 547h6v1h-6zM245 548h4v1h-4zM323 548h8v1h-8zM419 548h8v1h-8zM713 548h4v1h-4zM753 548h4v1h-4zM249 549h2v1h-2zM315 549h8v1h-8zM427 549h8v1h-8zM709 549h4v1h-4zM757 549h4v1h-4zM915 549h5v1h-5zM251 550h3v1h-3zM307 550h8v1h-8zM435 550h8v1h-8zM705 550h4v1h-4zM761 550h2v1h-2zM909 550h6v1h-6zM254 551h3v1h-3zM299 551h8v1h-8zM443 551h6v1h-6zM702 551h3v1h-3zM763 551h3v1h-3zM905 551h4v1h-4zM257 552h4v1h-4zM291 552h8v1h-8zM449 552h4v1h-4zM699 552h3v1h-3zM766 552h3v1h-3zM899 552h6v1h-6zM261 553h6v1h-6zM275 553h16v1h-16zM453 553h4v1h-4zM697 553h2v1h-2zM769 553h2v1h-2zM893 553h6v1h-6zM267 554h8v1h-8zM457 554h2v1h-2zM694 554h3v1h-3zM771 554h3v1h-3zM889 554h4v1h-4zM459 555h3v1h-3zM691 555h3v1h-3zM774 555h3v1h-3zM885 555h4v1h-4zM462 556h3v1h-3zM689 556h2v1h-2zM777 556h2v1h-2zM881 556h4v1h-4zM465 557h2v1h-2zM686 557h3v1h-3zM779 557h3v1h-3zM877 557h4v1h-4zM467 558h3v1h-3zM683 558h3v1h-3zM782 558h3v1h-3zM873 558h4v1h-4zM470 559h2v1h-2zM681 559h2v1h-2zM785 559h2v1h-2zM869 559h4v1h-4zM472 560h2v1h-2zM678 560h3v1h-3zM787 560h3v1h-3zM865 560h4v1h-4zM474 561h2v1h-2zM676 561h2v1h-2zM790 561h3v1h-3zM862 561h3v1h-3zM476 562h2v1h-2zM674 562h2v1h-2zM793 562h2v1h-2zM859 562h3v1h-3zM478 563h2v1h-2zM672 563h2v1h-2zM795 563h3v1h-3zM857 563h2v1h-2zM480 564h2v1h-2zM670 564h2v1h-2zM798 564h3v1h-3zM853 564h4v1h-4zM482 565h2v1h-2zM668 565h2v1h-2zM801 565h4v1h-4zM849 565h4v1h-4zM484 566h2v1h-2zM666 566h2v1h-2zM805 566h4v1h-4zM843 566h6v1h-6zM486 567h2v1h-2zM664 567h2v1h-2zM809 567h4v1h-4zM835 567h8v1h-8zM488 568h2v1h-2zM661 568h3v1h-3zM813 568h22v1h-22zM490 569h2v1h-2zM657 569h4v1h-4zM492 570h2v1h-2zM653 570h4v1h-4zM494 571h2v1h-2zM649 571h4v1h-4zM496 572h2v1h-2zM579 572h24v1h-24zM645 572h4v1h-4zM498 573h2v1h-2zM571 573h8v1h-8zM603 573h8v1h-8zM641 573h4v1h-4zM500 574h2v1h-2zM565 574h6v1h-6zM611 574h8v1h-8zM627 574h14v1h-14zM502 575h3v1h-3zM561 575h4v1h-4zM619 575h8v1h-8zM505 576h2v1h-2zM557 576h4v1h-4zM507 577h3v1h-3zM553 577h4v1h-4zM510 578h3v1h-3zM549 578h4v1h-4zM513 579h4v1h-4zM545 579h4v1h-4zM517 580h6v1h-6zM539 580h6v1h-6zM523 581h16v1h-16z" fill="#ff0000" />
</g>
<text x="11.5" y="523" font-family="Liberation Sans, sans-serif" font-size="9.6" fill="#000" stroke="#000" stroke-width="0.15" textLength="154" lengthAdjust="spacingAndGlyphs">MACD(12,26,9) -0.007044 -0.009375</text>
<rect x="1170" y="512" width="1" height="1" fill="#000"/>
<text x="1173" y="521" font-family="Liberation Sans, sans-serif" font-size="9.6" fill="#000" stroke="#000" stroke-width="0.15" textLength="38.44" lengthAdjust="spacingAndGlyphs">0.016457</text>
<rect x="1170" y="536" width="1" height="1" fill="#000"/>
<text x="1173" y="540" font-family="Liberation Sans, sans-serif" font-size="9.6" fill="#000" stroke="#000" stroke-width="0.15" textLength="17.94" lengthAdjust="spacingAndGlyphs">0.00</text>
<rect x="1170" y="591" width="1" height="1" fill="#000"/>
<text x="1173" y="589" font-family="Liberation Sans, sans-serif" font-size="9.6" fill="#000" stroke="#000" stroke-width="0.15" textLength="41.5" lengthAdjust="spacingAndGlyphs">-0.038129</text>
<rect x="7" y="593" width="1" height="3" fill="#000"/>
<text x="6" y="605" font-family="Liberation Sans, sans-serif" font-size="9.6" fill="#000" stroke="#000" stroke-width="0.15" textLength="47.87" lengthAdjust="spacingAndGlyphs">6 Nov 2018</text>
<rect x="71" y="593" width="1" height="3" fill="#000"/>
<text x="70" y="605" font-family="Liberation Sans, sans-serif" font-size="9.6" fill="#000" stroke="#000" stroke-width="0.15" textLength="53.08" lengthAdjust="spacingAndGlyphs">15 Nov 2018</text>
<rect x="135" y="593" width="1" height="3" fill="#000"/>
<text x="134" y="605" font-family="Liberation Sans, sans-serif" font-size="9.6" fill="#000" stroke="#000" stroke-width="0.15" textLength="53.08" lengthAdjust="spacingAndGlyphs">24 Nov 2018</text>
<rect x="199" y="593" width="1" height="3" fill="#000"/>
<text x="198" y="605" font-family="Liberation Sans, sans-serif" font-size="9.6" fill="#000" stroke="#000" stroke-width="0.15" textLength="47.87" lengthAdjust="spacingAndGlyphs">4 Dec 2018</text>
<rect x="263" y="593" width="1" height="3" fill="#000"/>
<text x="262" y="605" font-family="Liberation Sans, sans-serif" font-size="9.6" fill="#000" stroke="#000" stroke-width="0.15" textLength="53.08" lengthAdjust="spacingAndGlyphs">13 Dec 2018</text>
<rect x="327" y="593" width="1" height="3" fill="#000"/>
<text x="326" y="605" font-family="Liberation Sans, sans-serif" font-size="9.6" fill="#000" stroke="#000" stroke-width="0.15" textLength="53.08" lengthAdjust="spacingAndGlyphs">22 Dec 2018</text>
<rect x="391" y="593" width="1" height="3" fill="#000"/>
<text x="390" y="605" font-family="Liberation Sans, sans-serif" font-size="9.6" fill="#000" stroke="#000" stroke-width="0.15" textLength="46.32" lengthAdjust="spacingAndGlyphs">1 Jan 2019</text>
<rect x="455" y="593" width="1" height="3" fill="#000"/>
<text x="454" y="605" font-family="Liberation Sans, sans-serif" font-size="9.6" fill="#000" stroke="#000" stroke-width="0.15" textLength="51.52" lengthAdjust="spacingAndGlyphs">10 Jan 2019</text>
<rect x="519" y="593" width="1" height="3" fill="#000"/>
<text x="518" y="605" font-family="Liberation Sans, sans-serif" font-size="9.6" fill="#000" stroke="#000" stroke-width="0.15" textLength="51.52" lengthAdjust="spacingAndGlyphs">19 Jan 2019</text>
<rect x="583" y="593" width="1" height="3" fill="#000"/>
<text x="582" y="605" font-family="Liberation Sans, sans-serif" font-size="9.6" fill="#000" stroke="#000" stroke-width="0.15" textLength="51.52" lengthAdjust="spacingAndGlyphs">29 Jan 2019</text>
<rect x="647" y="593" width="1" height="3" fill="#000"/>
<text x="646" y="605" font-family="Liberation Sans, sans-serif" font-size="9.6" fill="#000" stroke="#000" stroke-width="0.15" textLength="47.35" lengthAdjust="spacingAndGlyphs">7 Feb 2019</text>
<rect x="711" y="593" width="1" height="3" fill="#000"/>
<text x="710" y="605" font-family="Liberation Sans, sans-serif" font-size="9.6" fill="#000" stroke="#000" stroke-width="0.15" textLength="52.56" lengthAdjust="spacingAndGlyphs">16 Feb 2019</text>
<rect x="775" y="593" width="1" height="3" fill="#000"/>
<text x="774" y="605" font-family="Liberation Sans, sans-serif" font-size="9.6" fill="#000" stroke="#000" stroke-width="0.15" textLength="52.56" lengthAdjust="spacingAndGlyphs">26 Feb 2019</text>
<rect x="839" y="593" width="1" height="3" fill="#000"/>
<text x="838" y="605" font-family="Liberation Sans, sans-serif" font-size="9.6" fill="#000" stroke="#000" stroke-width="0.15" textLength="47.34" lengthAdjust="spacingAndGlyphs">7 Mar 2019</text>
<rect x="903" y="593" width="1" height="3" fill="#000"/>
<text x="902" y="605" font-family="Liberation Sans, sans-serif" font-size="9.6" fill="#000" stroke="#000" stroke-width="0.15" textLength="52.55" lengthAdjust="spacingAndGlyphs">16 Mar 2019</text>
<rect x="2" y="615" width="1214" height="1" fill="#000"/>
<rect x="0" y="634" width="4" height="1" fill="#a0a0a0"/>
<rect x="0" y="635" width="1216" height="1" fill="#fdfdfd"/>
<rect x="0" y="639" width="1215" height="1" fill="#a0a0a0"/>
<rect x="0" y="640" width="1216" height="1" fill="#fff"/>
<rect x="420" y="615" width="104" height="19" fill="#fff"/>
<rect x="420" y="615" width="1" height="19" fill="#000"/><rect x="523" y="615" width="1" height="19" fill="#000"/><rect x="420" y="633" width="104" height="1" fill="#000"/>
<text x="20.2" y="629.5" font-family="Liberation Sans, sans-serif" font-size="12" fill="#6d6d6d" textLength="79.5" lengthAdjust="spacingAndGlyphs">EURUSD,Daily</text>
<text x="123.2" y="629.5" font-family="Liberation Sans, sans-serif" font-size="12" fill="#6d6d6d" textLength="82" lengthAdjust="spacingAndGlyphs">AUDUSD,Daily</text>
<text x="226.3" y="629.5" font-family="Liberation Sans, sans-serif" font-size="12" fill="#6d6d6d" textLength="78.4" lengthAdjust="spacingAndGlyphs">USDCHF,Daily</text>
<text x="326.8" y="629.5" font-family="Liberation Sans, sans-serif" font-size="12" fill="#6d6d6d" textLength="81" lengthAdjust="spacingAndGlyphs">USDCAD,Daily</text>
<text x="534.5" y="629.5" font-family="Liberation Sans, sans-serif" font-size="12" fill="#6d6d6d" textLength="74.5" lengthAdjust="spacingAndGlyphs">USDJPY,Daily</text>
<text x="631" y="629.5" font-family="Liberation Sans, sans-serif" font-size="12" fill="#6d6d6d" textLength="68.7" lengthAdjust="spacingAndGlyphs">XAUUSD,H1</text>
<text x="724.5" y="629.5" font-family="Liberation Sans, sans-serif" font-size="12" fill="#6d6d6d" textLength="67.3" lengthAdjust="spacingAndGlyphs">GBPUSD,H4</text>
<text x="816.4" y="629.5" font-family="Liberation Sans, sans-serif" font-size="12" fill="#6d6d6d" textLength="63" lengthAdjust="spacingAndGlyphs">SP500,M15</text>
<text x="904.3" y="629.5" font-family="Liberation Sans, sans-serif" font-size="12" fill="#6d6d6d" textLength="79.7" lengthAdjust="spacingAndGlyphs">GBPUSD,Daily</text>
<text x="1006.3" y="629.5" font-family="Liberation Sans, sans-serif" font-size="12" fill="#6d6d6d" textLength="47" lengthAdjust="spacingAndGlyphs">DJ30,H4</text>
<text x="1074.4" y="629.5" font-family="Liberation Sans, sans-serif" font-size="12" fill="#6d6d6d" textLength="70.1" lengthAdjust="spacingAndGlyphs">TECH100,H1</text>
<text x="430.5" y="629.5" font-family="Liberation Sans, sans-serif" font-size="12" fill="#000" textLength="82.3" lengthAdjust="spacingAndGlyphs">USDCNH,Daily</text>
<text x="1168.5" y="629.5" font-family="Liberation Sans, sans-serif" font-size="12" fill="#6d6d6d">U</text><rect x="1178" y="621" width="1" height="9" fill="#a07050"/>
<rect x="112" y="618" width="1" height="14" fill="#6d6d6d"/>
<rect x="216" y="618" width="1" height="14" fill="#6d6d6d"/>
<rect x="316" y="618" width="1" height="14" fill="#6d6d6d"/>
<rect x="620" y="618" width="1" height="14" fill="#6d6d6d"/>
<rect x="712" y="618" width="1" height="14" fill="#6d6d6d"/>
<rect x="804" y="618" width="1" height="14" fill="#6d6d6d"/>
<rect x="892" y="618" width="1" height="14" fill="#6d6d6d"/>
<rect x="996" y="618" width="1" height="14" fill="#6d6d6d"/>
<rect x="1064" y="618" width="1" height="14" fill="#6d6d6d"/>
<rect x="1156" y="618" width="1" height="14" fill="#6d6d6d"/>
<rect x="1181" y="617" width="34" height="16" fill="#f0f0f0"/>
<path d="M1185,624 L1188.5,620.5 L1188.5,627.5 Z" fill="#808080" shape-rendering="auto"/>
<path d="M1207.5,624 L1204,620.5 L1204,627.5 Z" fill="#000" shape-rendering="auto"/>
</svg>
</body></html>
